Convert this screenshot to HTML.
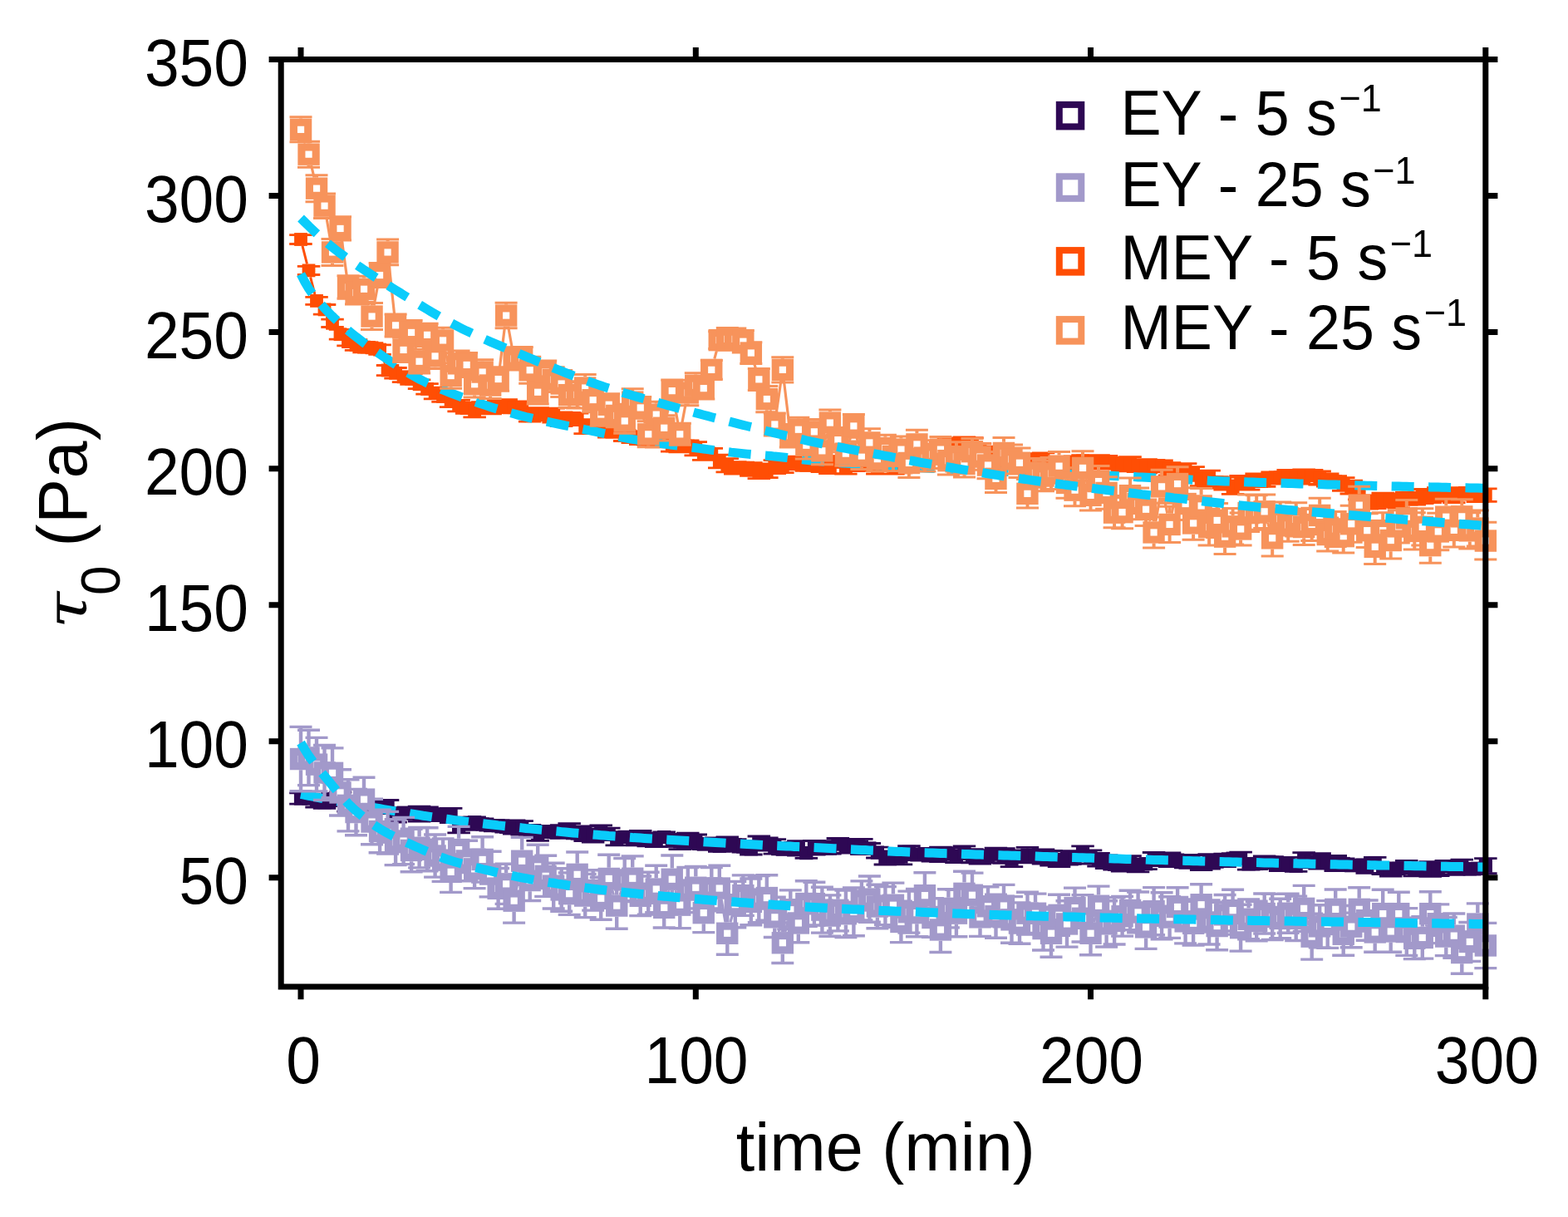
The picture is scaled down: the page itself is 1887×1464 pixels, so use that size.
<!DOCTYPE html>
<html lang="en"><head><meta charset="utf-8"><title>Yield stress over time</title>
<style>
html,body{margin:0;padding:0;background:#fff}
body{width:1887px;height:1464px;overflow:hidden}
svg{display:block}
text{font-family:"Liberation Sans",Arial,Helvetica,sans-serif;fill:#000}
</style></head><body>
<svg width="1887" height="1464" viewBox="0 0 1887 1464">
<rect width="1887" height="1464" fill="#fff"/>
<g id="data">
<g id="s1"><path fill="none" stroke="#2e0854" stroke-width="2.8" d="M476.1 972.9V972.9M476.1 989.1V989.2M504.6 970.2V971.1M504.6 987.3V988.1M514.1 970.8V971.1M514.1 987.3V987.7M542.6 972.4V972.9M542.6 989.1V989.6M552.1 984.4V985M552.1 1001.2V1001.9M618.6 986.8V986.9M618.6 1003.1V1003.2M628.2 987.6V987.7M628.2 1003.9V1004M647.2 993.8V994.5M647.2 1010.7V1011.4M704.2 993.9V994.7M704.2 1010.9V1011.7M818.3 1003.4V1004.4M818.3 1020.6V1021.6M827.8 1002.1V1003M827.8 1019.2V1020.1M837.3 1004V1004.5M837.3 1020.7V1021.2M875.3 1006.9V1007.4M875.3 1023.6V1024.1M913.3 1006V1006.2M913.3 1022.4V1022.6M932.3 1009.7V1010.3M932.3 1026.5V1027.2M960.8 1011.7V1012.3M960.8 1028.5V1029M979.9 1011.5V1011.6M979.9 1027.8V1028M1017.9 1009.4V1009.7M1017.9 1025.9V1026.1M1036.9 1009.4V1010.4M1036.9 1026.6V1027.5M1084.4 1021.5V1022.6M1084.4 1038.8V1039.8M1131.9 1019.2V1019.8M1131.9 1036V1036.7M1179.5 1022.6V1022.8M1179.5 1039V1039.2M1208 1020.7V1021.4M1208 1037.6V1038.3M1217.5 1024.9V1025.7M1217.5 1041.9V1042.6M1236.5 1019.4V1020.5M1236.5 1036.7V1037.8M1255.5 1022V1022.5M1255.5 1038.7V1039.2M1265 1023.3V1024.1M1265 1040.3V1041.1M1284 1023.7V1023.7M1284 1039.9V1040M1303 1017.9V1018.5M1303 1034.7V1035.3M1312.5 1022.8V1022.9M1312.5 1039.1V1039.1M1350.6 1030.7V1031.2M1350.6 1047.4V1048M1407.6 1025.8V1026.1M1407.6 1042.3V1042.6M1455.1 1027.7V1028.3M1455.1 1044.5V1045.2M1569.2 1025.7V1026.7M1569.2 1042.9V1043.9M1588.2 1026.7V1027.7M1588.2 1043.9V1045M1607.2 1029.5V1030.4M1607.2 1046.6V1047.5M1645.2 1034V1034.1M1645.2 1050.3V1050.4M1673.7 1038V1038M1673.7 1054.2V1054.2M1721.3 1036.6V1037.4M1721.3 1053.6V1054.4M1749.8 1036.1V1036.1M1749.8 1052.3V1052.4M1759.3 1034.2V1034.8M1759.3 1051V1051.7M1787.8 1032.6V1033.6M1787.8 1049.8V1050.7"/>
<path fill="none" stroke="#2e0854" stroke-width="2.8" d="M348.2 953.8h27.5M348.2 967.2h27.5M357.8 955.2h27.5M357.8 965.6h27.5M367.3 956.6h27.5M367.3 971h27.5M376.8 958h27.5M376.8 972.3h27.5M386.3 954.5h27.5M386.3 969.5h27.5M395.8 953h27.5M395.8 967.6h27.5M405.3 962h27.5M405.3 976.2h27.5M414.8 961.1h27.5M414.8 974.8h27.5M424.3 962.9h27.5M424.3 978.8h27.5M433.8 964.7h27.5M433.8 976.7h27.5M443.3 963.1h27.5M443.3 978.2h27.5M452.8 962.5h27.5M452.8 978.7h27.5M462.3 972.9h27.5M462.3 989.2h27.5M471.8 971.6h27.5M471.8 983.8h27.5M481.3 971.3h27.5M481.3 985h27.5M490.8 970.2h27.5M490.8 988.1h27.5M500.3 970.8h27.5M500.3 987.7h27.5M509.8 974.3h27.5M509.8 987.1h27.5M519.3 972.6h27.5M519.3 987.6h27.5M528.9 972.4h27.5M528.9 989.6h27.5M538.4 984.4h27.5M538.4 1001.9h27.5M547.9 983.2h27.5M547.9 998.4h27.5M557.4 983h27.5M557.4 995.5h27.5M566.9 984.8h27.5M566.9 998h27.5M576.4 987.1h27.5M576.4 999.1h27.5M585.9 986.7h27.5M585.9 999.6h27.5M595.4 988.8h27.5M595.4 1001h27.5M604.9 986.8h27.5M604.9 1003.2h27.5M614.4 987.6h27.5M614.4 1004h27.5M623.9 992.4h27.5M623.9 1007.2h27.5M633.4 993.8h27.5M633.4 1011.4h27.5M642.9 993.8h27.5M642.9 1006.6h27.5M652.4 994.6h27.5M652.4 1007.7h27.5M661.9 992.6h27.5M661.9 1008.4h27.5M671.4 990.6h27.5M671.4 1005.9h27.5M680.9 996.2h27.5M680.9 1008.8h27.5M690.4 993.9h27.5M690.4 1011.7h27.5M699.9 997.2h27.5M699.9 1013.1h27.5M709.5 992.8h27.5M709.5 1008.6h27.5M719 996.2h27.5M719 1010.5h27.5M728.5 1001.1h27.5M728.5 1016.9h27.5M738 1000.7h27.5M738 1013h27.5M747.5 1003.1h27.5M747.5 1016.9h27.5M757 999.3h27.5M757 1015.3h27.5M766.5 1002.2h27.5M766.5 1017.9h27.5M776 1003.2h27.5M776 1018.5h27.5M785.5 1001h27.5M785.5 1013.2h27.5M795 1004.4h27.5M795 1018.3h27.5M804.5 1003.4h27.5M804.5 1021.6h27.5M814 1002.1h27.5M814 1020.1h27.5M823.5 1004h27.5M823.5 1021.2h27.5M833 1009.5h27.5M833 1021.7h27.5M842.5 1008.5h27.5M842.5 1020.8h27.5M852 1011.2h27.5M852 1024.4h27.5M861.5 1006.9h27.5M861.5 1024.1h27.5M871 1009.6h27.5M871 1022.8h27.5M880.6 1011.8h27.5M880.6 1025.1h27.5M890.1 1014.5h27.5M890.1 1028h27.5M899.6 1006h27.5M899.6 1022.6h27.5M909.1 1007.8h27.5M909.1 1023.1h27.5M918.6 1009.7h27.5M918.6 1027.2h27.5M928.1 1015.5h27.5M928.1 1027.8h27.5M937.6 1014h27.5M937.6 1026.1h27.5M947.1 1011.7h27.5M947.1 1029h27.5M956.6 1019.8h27.5M956.6 1032.3h27.5M966.1 1011.5h27.5M966.1 1028h27.5M975.6 1011.6h27.5M975.6 1027.4h27.5M985.1 1014.1h27.5M985.1 1027.2h27.5M994.6 1008.5h27.5M994.6 1022h27.5M1004.1 1009.4h27.5M1004.1 1026.1h27.5M1013.6 1010.1h27.5M1013.6 1022.1h27.5M1023.1 1009.4h27.5M1023.1 1027.5h27.5M1032.6 1014.5h27.5M1032.6 1026.6h27.5M1042.1 1019.2h27.5M1042.1 1032h27.5M1051.6 1024h27.5M1051.6 1040h27.5M1061.2 1024.9h27.5M1061.2 1037.5h27.5M1070.7 1021.5h27.5M1070.7 1039.8h27.5M1080.2 1017.6h27.5M1080.2 1032.3h27.5M1089.7 1022.3h27.5M1089.7 1034.5h27.5M1099.2 1020.6h27.5M1099.2 1033.5h27.5M1108.7 1020.8h27.5M1108.7 1036.2h27.5M1118.2 1019.2h27.5M1118.2 1036.7h27.5M1127.7 1020h27.5M1127.7 1033.5h27.5M1137.2 1023.1h27.5M1137.2 1037.5h27.5M1146.7 1017.9h27.5M1146.7 1033.5h27.5M1156.2 1021.7h27.5M1156.2 1037.8h27.5M1165.7 1022.6h27.5M1165.7 1039.2h27.5M1175.2 1023.6h27.5M1175.2 1037.6h27.5M1184.7 1020.2h27.5M1184.7 1034.4h27.5M1194.2 1020.7h27.5M1194.2 1038.3h27.5M1203.7 1024.9h27.5M1203.7 1042.6h27.5M1213.2 1023h27.5M1213.2 1037.6h27.5M1222.7 1019.4h27.5M1222.7 1037.8h27.5M1232.3 1023.4h27.5M1232.3 1036.4h27.5M1241.8 1022h27.5M1241.8 1039.2h27.5M1251.3 1023.3h27.5M1251.3 1041.1h27.5M1260.8 1027.2h27.5M1260.8 1042.7h27.5M1270.3 1023.7h27.5M1270.3 1040h27.5M1279.8 1026.6h27.5M1279.8 1038.8h27.5M1289.3 1017.9h27.5M1289.3 1035.3h27.5M1298.8 1022.8h27.5M1298.8 1039.1h27.5M1308.3 1026.5h27.5M1308.3 1042.1h27.5M1317.8 1028.9h27.5M1317.8 1044.5h27.5M1327.3 1033.4h27.5M1327.3 1046.2h27.5M1336.8 1030.7h27.5M1336.8 1048h27.5M1346.3 1029.7h27.5M1346.3 1045h27.5M1355.8 1033.1h27.5M1355.8 1048.9h27.5M1365.3 1032.8h27.5M1365.3 1045.7h27.5M1374.8 1025.5h27.5M1374.8 1041.5h27.5M1384.3 1027.2h27.5M1384.3 1040.6h27.5M1393.8 1025.8h27.5M1393.8 1042.6h27.5M1403.3 1028.6h27.5M1403.3 1040.6h27.5M1412.9 1031.3h27.5M1412.9 1043.9h27.5M1422.4 1028.5h27.5M1422.4 1041.7h27.5M1431.9 1032.2h27.5M1431.9 1046.6h27.5M1441.4 1027.7h27.5M1441.4 1045.2h27.5M1450.9 1030.7h27.5M1450.9 1042.6h27.5M1460.4 1027.1h27.5M1460.4 1042.6h27.5M1469.9 1026.6h27.5M1469.9 1038.7h27.5M1479.4 1025.1h27.5M1479.4 1039.4h27.5M1488.9 1032.4h27.5M1488.9 1046.2h27.5M1498.4 1032.6h27.5M1498.4 1045.5h27.5M1507.9 1030h27.5M1507.9 1044.9h27.5M1517.4 1030.6h27.5M1517.4 1044.7h27.5M1526.9 1034h27.5M1526.9 1047.5h27.5M1536.4 1031.4h27.5M1536.4 1047.3h27.5M1545.9 1035h27.5M1545.9 1048.4h27.5M1555.4 1025.7h27.5M1555.4 1043.9h27.5M1564.9 1029.7h27.5M1564.9 1043.2h27.5M1574.4 1026.7h27.5M1574.4 1045h27.5M1584 1030.2h27.5M1584 1043.1h27.5M1593.5 1029.5h27.5M1593.5 1047.5h27.5M1603 1032.9h27.5M1603 1045.1h27.5M1612.5 1035.3h27.5M1612.5 1047.1h27.5M1622 1034.7h27.5M1622 1047.2h27.5M1631.5 1034h27.5M1631.5 1050.4h27.5M1641 1031.3h27.5M1641 1044.7h27.5M1650.5 1038h27.5M1650.5 1051.6h27.5M1660 1038h27.5M1660 1054.2h27.5M1669.5 1038.9h27.5M1669.5 1050.9h27.5M1679 1035.3h27.5M1679 1050.6h27.5M1688.5 1039.3h27.5M1688.5 1053.8h27.5M1698 1040.3h27.5M1698 1053.2h27.5M1707.5 1036.6h27.5M1707.5 1054.4h27.5M1717 1039.4h27.5M1717 1053.5h27.5M1726.5 1035.3h27.5M1726.5 1049h27.5M1736 1036.1h27.5M1736 1052.4h27.5M1745.5 1034.2h27.5M1745.5 1051.7h27.5M1755 1038.7h27.5M1755 1052h27.5M1764.6 1038.5h27.5M1764.6 1051.1h27.5M1774.1 1032.6h27.5M1774.1 1050.7h27.5"/>
<g fill="#2e0854" stroke="none"><rect x="353.9" y="952.4" width="16.2" height="16.2"/><rect x="363.4" y="952.3" width="16.2" height="16.2"/><rect x="372.9" y="955.7" width="16.2" height="16.2"/><rect x="382.4" y="957.1" width="16.2" height="16.2"/><rect x="391.9" y="953.9" width="16.2" height="16.2"/><rect x="401.4" y="952.2" width="16.2" height="16.2"/><rect x="410.9" y="961" width="16.2" height="16.2"/><rect x="420.4" y="959.9" width="16.2" height="16.2"/><rect x="429.9" y="962.7" width="16.2" height="16.2"/><rect x="439.4" y="962.6" width="16.2" height="16.2"/><rect x="449" y="962.5" width="16.2" height="16.2"/><rect x="458.5" y="962.5" width="16.2" height="16.2"/><rect x="468" y="972.9" width="16.2" height="16.2"/><rect x="477.5" y="969.6" width="16.2" height="16.2"/><rect x="487" y="970.1" width="16.2" height="16.2"/><rect x="496.5" y="971.1" width="16.2" height="16.2"/><rect x="506" y="971.1" width="16.2" height="16.2"/><rect x="515.5" y="972.6" width="16.2" height="16.2"/><rect x="525" y="972" width="16.2" height="16.2"/><rect x="534.5" y="972.9" width="16.2" height="16.2"/><rect x="544" y="985" width="16.2" height="16.2"/><rect x="553.5" y="982.7" width="16.2" height="16.2"/><rect x="563" y="981.1" width="16.2" height="16.2"/><rect x="572.5" y="983.3" width="16.2" height="16.2"/><rect x="582" y="985" width="16.2" height="16.2"/><rect x="591.5" y="985.1" width="16.2" height="16.2"/><rect x="601" y="986.8" width="16.2" height="16.2"/><rect x="610.5" y="986.9" width="16.2" height="16.2"/><rect x="620.1" y="987.7" width="16.2" height="16.2"/><rect x="629.6" y="991.7" width="16.2" height="16.2"/><rect x="639.1" y="994.5" width="16.2" height="16.2"/><rect x="648.6" y="992.1" width="16.2" height="16.2"/><rect x="658.1" y="993.1" width="16.2" height="16.2"/><rect x="667.6" y="992.4" width="16.2" height="16.2"/><rect x="677.1" y="990.1" width="16.2" height="16.2"/><rect x="686.6" y="994.4" width="16.2" height="16.2"/><rect x="696.1" y="994.7" width="16.2" height="16.2"/><rect x="705.6" y="997" width="16.2" height="16.2"/><rect x="715.1" y="992.6" width="16.2" height="16.2"/><rect x="724.6" y="995.2" width="16.2" height="16.2"/><rect x="734.1" y="1000.9" width="16.2" height="16.2"/><rect x="743.6" y="998.8" width="16.2" height="16.2"/><rect x="753.1" y="1001.9" width="16.2" height="16.2"/><rect x="762.6" y="999.2" width="16.2" height="16.2"/><rect x="772.1" y="1002" width="16.2" height="16.2"/><rect x="781.6" y="1002.7" width="16.2" height="16.2"/><rect x="791.1" y="999" width="16.2" height="16.2"/><rect x="800.7" y="1003.2" width="16.2" height="16.2"/><rect x="810.2" y="1004.4" width="16.2" height="16.2"/><rect x="819.7" y="1003" width="16.2" height="16.2"/><rect x="829.2" y="1004.5" width="16.2" height="16.2"/><rect x="838.7" y="1007.5" width="16.2" height="16.2"/><rect x="848.2" y="1006.5" width="16.2" height="16.2"/><rect x="857.7" y="1009.7" width="16.2" height="16.2"/><rect x="867.2" y="1007.4" width="16.2" height="16.2"/><rect x="876.7" y="1008.1" width="16.2" height="16.2"/><rect x="886.2" y="1010.4" width="16.2" height="16.2"/><rect x="895.7" y="1013.2" width="16.2" height="16.2"/><rect x="905.2" y="1006.2" width="16.2" height="16.2"/><rect x="914.7" y="1007.3" width="16.2" height="16.2"/><rect x="924.2" y="1010.3" width="16.2" height="16.2"/><rect x="933.7" y="1013.6" width="16.2" height="16.2"/><rect x="943.2" y="1011.9" width="16.2" height="16.2"/><rect x="952.7" y="1012.3" width="16.2" height="16.2"/><rect x="962.2" y="1018" width="16.2" height="16.2"/><rect x="971.8" y="1011.6" width="16.2" height="16.2"/><rect x="981.3" y="1011.4" width="16.2" height="16.2"/><rect x="990.8" y="1012.5" width="16.2" height="16.2"/><rect x="1000.3" y="1007.2" width="16.2" height="16.2"/><rect x="1009.8" y="1009.7" width="16.2" height="16.2"/><rect x="1019.3" y="1008" width="16.2" height="16.2"/><rect x="1028.8" y="1010.4" width="16.2" height="16.2"/><rect x="1038.3" y="1012.4" width="16.2" height="16.2"/><rect x="1047.8" y="1017.5" width="16.2" height="16.2"/><rect x="1057.3" y="1023.9" width="16.2" height="16.2"/><rect x="1066.8" y="1023.1" width="16.2" height="16.2"/><rect x="1076.3" y="1022.6" width="16.2" height="16.2"/><rect x="1085.8" y="1016.8" width="16.2" height="16.2"/><rect x="1095.3" y="1020.3" width="16.2" height="16.2"/><rect x="1104.8" y="1019" width="16.2" height="16.2"/><rect x="1114.3" y="1020.4" width="16.2" height="16.2"/><rect x="1123.8" y="1019.8" width="16.2" height="16.2"/><rect x="1133.3" y="1018.6" width="16.2" height="16.2"/><rect x="1142.8" y="1022.2" width="16.2" height="16.2"/><rect x="1152.4" y="1017.6" width="16.2" height="16.2"/><rect x="1161.9" y="1021.7" width="16.2" height="16.2"/><rect x="1171.4" y="1022.8" width="16.2" height="16.2"/><rect x="1180.9" y="1022.5" width="16.2" height="16.2"/><rect x="1190.4" y="1019.2" width="16.2" height="16.2"/><rect x="1199.9" y="1021.4" width="16.2" height="16.2"/><rect x="1209.4" y="1025.7" width="16.2" height="16.2"/><rect x="1218.9" y="1022.2" width="16.2" height="16.2"/><rect x="1228.4" y="1020.5" width="16.2" height="16.2"/><rect x="1237.9" y="1021.8" width="16.2" height="16.2"/><rect x="1247.4" y="1022.5" width="16.2" height="16.2"/><rect x="1256.9" y="1024.1" width="16.2" height="16.2"/><rect x="1266.4" y="1026.8" width="16.2" height="16.2"/><rect x="1275.9" y="1023.7" width="16.2" height="16.2"/><rect x="1285.4" y="1024.6" width="16.2" height="16.2"/><rect x="1294.9" y="1018.5" width="16.2" height="16.2"/><rect x="1304.4" y="1022.9" width="16.2" height="16.2"/><rect x="1313.9" y="1026.2" width="16.2" height="16.2"/><rect x="1323.5" y="1028.6" width="16.2" height="16.2"/><rect x="1333" y="1031.7" width="16.2" height="16.2"/><rect x="1342.5" y="1031.2" width="16.2" height="16.2"/><rect x="1352" y="1029.3" width="16.2" height="16.2"/><rect x="1361.5" y="1032.9" width="16.2" height="16.2"/><rect x="1371" y="1031.1" width="16.2" height="16.2"/><rect x="1380.5" y="1025.4" width="16.2" height="16.2"/><rect x="1390" y="1025.8" width="16.2" height="16.2"/><rect x="1399.5" y="1026.1" width="16.2" height="16.2"/><rect x="1409" y="1026.5" width="16.2" height="16.2"/><rect x="1418.5" y="1029.5" width="16.2" height="16.2"/><rect x="1428" y="1027" width="16.2" height="16.2"/><rect x="1437.5" y="1031.3" width="16.2" height="16.2"/><rect x="1447" y="1028.3" width="16.2" height="16.2"/><rect x="1456.5" y="1028.5" width="16.2" height="16.2"/><rect x="1466" y="1026.7" width="16.2" height="16.2"/><rect x="1475.5" y="1024.6" width="16.2" height="16.2"/><rect x="1485" y="1024.2" width="16.2" height="16.2"/><rect x="1494.5" y="1031.2" width="16.2" height="16.2"/><rect x="1504.1" y="1030.9" width="16.2" height="16.2"/><rect x="1513.6" y="1029.3" width="16.2" height="16.2"/><rect x="1523.1" y="1029.6" width="16.2" height="16.2"/><rect x="1532.6" y="1032.7" width="16.2" height="16.2"/><rect x="1542.1" y="1031.2" width="16.2" height="16.2"/><rect x="1551.6" y="1033.6" width="16.2" height="16.2"/><rect x="1561.1" y="1026.7" width="16.2" height="16.2"/><rect x="1570.6" y="1028.3" width="16.2" height="16.2"/><rect x="1580.1" y="1027.7" width="16.2" height="16.2"/><rect x="1589.6" y="1028.5" width="16.2" height="16.2"/><rect x="1599.1" y="1030.4" width="16.2" height="16.2"/><rect x="1608.6" y="1030.9" width="16.2" height="16.2"/><rect x="1618.1" y="1033.1" width="16.2" height="16.2"/><rect x="1627.6" y="1032.8" width="16.2" height="16.2"/><rect x="1637.1" y="1034.1" width="16.2" height="16.2"/><rect x="1646.6" y="1029.9" width="16.2" height="16.2"/><rect x="1656.1" y="1036.7" width="16.2" height="16.2"/><rect x="1665.6" y="1038" width="16.2" height="16.2"/><rect x="1675.2" y="1036.8" width="16.2" height="16.2"/><rect x="1684.7" y="1034.8" width="16.2" height="16.2"/><rect x="1694.2" y="1038.4" width="16.2" height="16.2"/><rect x="1703.7" y="1038.7" width="16.2" height="16.2"/><rect x="1713.2" y="1037.4" width="16.2" height="16.2"/><rect x="1722.7" y="1038.3" width="16.2" height="16.2"/><rect x="1732.2" y="1034.1" width="16.2" height="16.2"/><rect x="1741.7" y="1036.1" width="16.2" height="16.2"/><rect x="1751.2" y="1034.8" width="16.2" height="16.2"/><rect x="1760.7" y="1037.2" width="16.2" height="16.2"/><rect x="1770.2" y="1036.7" width="16.2" height="16.2"/><rect x="1779.7" y="1033.6" width="16.2" height="16.2"/></g></g>
<polyline fill="none" stroke="#0accfb" stroke-width="11" stroke-dasharray="27 17.4" points="362,955.4 366.8,956.3 371.5,957.3 376.3,958.2 381,959.1 385.8,960 390.5,960.9 395.3,961.8 400,962.7 404.8,963.6 409.5,964.5 414.3,965.3 419,966.2 423.8,967 428.5,967.9 433.3,968.7 438,969.5 442.8,970.4 447.5,971.2 452.3,972 457.1,972.8 461.8,973.6 466.6,974.4 471.3,975.1 476.1,975.9 480.8,976.7 485.6,977.4 490.3,978.2 495.1,979 499.8,979.7 504.6,980.4 509.3,981.2 514.1,981.9 518.8,982.6 523.6,983.3 528.3,984 533.1,984.7 537.8,985.3 542.6,986 547.4,986.6 552.1,987.2 556.9,987.8 561.6,988.4 566.4,989 571.1,989.6 575.9,990.2 580.6,990.7 585.4,991.3 590.1,991.8 594.9,992.3 599.6,992.9 604.4,993.4 609.1,993.9 613.9,994.4 618.6,994.9 623.4,995.4 628.2,995.9 632.9,996.4 637.7,996.8 642.4,997.3 647.2,997.8 651.9,998.3 656.7,998.7 661.4,999.2 666.2,999.7 670.9,1000.1 675.7,1000.6 680.4,1001 685.2,1001.5 689.9,1001.9 694.7,1002.3 699.4,1002.7 704.2,1003.2 708.9,1003.6 713.7,1004 718.5,1004.3 723.2,1004.7 728,1005.1 732.7,1005.5 737.5,1005.8 742.2,1006.1 747,1006.5 751.7,1006.8 756.5,1007.1 761.2,1007.5 766,1007.8 770.7,1008.1 775.5,1008.4 780.2,1008.7 785,1009 789.7,1009.3 794.5,1009.6 799.2,1009.9 804,1010.2 808.8,1010.5 813.5,1010.8 818.3,1011 823,1011.3 827.8,1011.6 832.5,1011.9 837.3,1012.1 842,1012.4 846.8,1012.7 851.5,1012.9 856.3,1013.2 861,1013.5 865.8,1013.7 870.5,1014 875.3,1014.3 880,1014.5 884.8,1014.8 889.5,1015 894.3,1015.3 899.1,1015.5 903.8,1015.8 908.6,1016 913.3,1016.2 918.1,1016.5 922.8,1016.7 927.6,1017 932.3,1017.2 937.1,1017.4 941.8,1017.7 946.6,1017.9 951.3,1018.1 956.1,1018.4 960.8,1018.6 965.6,1018.8 970.3,1019.1 975.1,1019.3 979.9,1019.5 984.6,1019.8 989.4,1020 994.1,1020.2 998.9,1020.5 1003.6,1020.7 1008.4,1020.9 1013.1,1021.2 1017.9,1021.4 1022.6,1021.7 1027.4,1021.9 1032.1,1022.2 1036.9,1022.4 1041.6,1022.6 1046.4,1022.9 1051.1,1023.1 1055.9,1023.4 1060.6,1023.6 1065.4,1023.8 1070.2,1024 1074.9,1024.2 1079.7,1024.4 1084.4,1024.6 1089.2,1024.8 1093.9,1025 1098.7,1025.2 1103.4,1025.4 1108.2,1025.6 1112.9,1025.7 1117.7,1025.9 1122.4,1026.1 1127.2,1026.3 1131.9,1026.4 1136.7,1026.6 1141.4,1026.7 1146.2,1026.9 1150.9,1027.1 1155.7,1027.2 1160.5,1027.4 1165.2,1027.5 1170,1027.7 1174.7,1027.9 1179.5,1028 1184.2,1028.2 1189,1028.3 1193.7,1028.5 1198.5,1028.6 1203.2,1028.7 1208,1028.9 1212.7,1029 1217.5,1029.2 1222.2,1029.3 1227,1029.5 1231.7,1029.6 1236.5,1029.8 1241.2,1029.9 1246,1030.1 1250.8,1030.2 1255.5,1030.4 1260.3,1030.5 1265,1030.7 1269.8,1030.8 1274.5,1031 1279.3,1031.1 1284,1031.2 1288.8,1031.4 1293.5,1031.5 1298.3,1031.7 1303,1031.8 1307.8,1032 1312.5,1032.1 1317.3,1032.3 1322,1032.4 1326.8,1032.5 1331.6,1032.7 1336.3,1032.8 1341.1,1033 1345.8,1033.1 1350.6,1033.3 1355.3,1033.4 1360.1,1033.5 1364.8,1033.7 1369.6,1033.8 1374.3,1033.9 1379.1,1034.1 1383.8,1034.2 1388.6,1034.4 1393.3,1034.5 1398.1,1034.6 1402.8,1034.8 1407.6,1034.9 1412.3,1035 1417.1,1035.1 1421.9,1035.3 1426.6,1035.4 1431.4,1035.5 1436.1,1035.7 1440.9,1035.8 1445.6,1035.9 1450.4,1036 1455.1,1036.2 1459.9,1036.3 1464.6,1036.4 1469.4,1036.5 1474.1,1036.7 1478.9,1036.8 1483.6,1036.9 1488.4,1037 1493.1,1037.2 1497.9,1037.3 1502.6,1037.4 1507.4,1037.5 1512.2,1037.6 1516.9,1037.8 1521.7,1037.9 1526.4,1038 1531.2,1038.1 1535.9,1038.2 1540.7,1038.3 1545.4,1038.5 1550.2,1038.6 1554.9,1038.7 1559.7,1038.8 1564.4,1038.9 1569.2,1039 1573.9,1039.1 1578.7,1039.2 1583.4,1039.3 1588.2,1039.4 1592.9,1039.5 1597.7,1039.6 1602.5,1039.7 1607.2,1039.8 1612,1039.9 1616.7,1040 1621.5,1040.1 1626.2,1040.2 1631,1040.3 1635.7,1040.4 1640.5,1040.5 1645.2,1040.6 1650,1040.7 1654.7,1040.8 1659.5,1040.9 1664.2,1041 1669,1041.1 1673.7,1041.1 1678.5,1041.2 1683.3,1041.3 1688,1041.4 1692.8,1041.5 1697.5,1041.6 1702.3,1041.7 1707,1041.7 1711.8,1041.8 1716.5,1041.9 1721.3,1042 1726,1042.1 1730.8,1042.1 1735.5,1042.2 1740.3,1042.3 1745,1042.4 1749.8,1042.4 1754.5,1042.5 1759.3,1042.6 1764,1042.7 1768.8,1042.7 1773.6,1042.8 1778.3,1042.9 1783.1,1042.9 1787.8,1043"/>
<g id="s2"><path fill="none" stroke="#a299ca" stroke-width="3.2" d="M442.7 974.8L442.9 975.3M547.3 1035.7L547.4 1035.2M621.3 1070.5L625.5 1049M736.6 1070.1L738.4 1076.4M746.2 1076.4L747.7 1071.7M802.9 1078.7L805.1 1071M812.8 1071L814.2 1075.4M841.4 1080.9L842.7 1084.9M851 1084.9L852.1 1081.5M868.1 1081.8L873 1109.5M878.9 1109.5L881.2 1101.3M936.4 1116.6L937.8 1121M945 1121L948.2 1107.4M1117.6 1090.3L1117.8 1090.7M1174.7 1090L1174.7 1090.2M1316.3 1109.5L1318.2 1103M1572.9 1106.1L1575 1113.5M1611.4 1107.1L1612.5 1110.5M1716.1 1114.8L1716.9 1112.3"/>
<path fill="none" stroke="#a299ca" stroke-width="4.4" d="M362 874.4V899.9M362 926.3V951.7M371.5 878.3V898.2M371.5 924.6V944.6M381 887.4V906.4M381 932.8V951.9M390.5 896.5V916.3M390.5 942.7V962.5M400 899.9V916.6M400 943V959.7M409.5 925.8V940.2M409.5 966.6V981M419 937.8V955.7M419 982.1V999.9M428.5 949.4V963.9M428.5 990.3V1004.7M438 935.3V948.4M438 974.8V988M447.5 961.3V975.3M447.5 1001.7V1015.7M457.1 974.3V986.8M457.1 1013.2V1025.7M466.6 976.4V988.5M466.6 1014.9V1027M476.1 985.7V999.9M476.1 1026.3V1040.6M485.6 983.4V998.3M485.6 1024.7V1039.6M495.1 997.3V1009.8M495.1 1036.2V1048.7M504.6 995.5V1006.5M504.6 1032.9V1043.9M514.1 995.8V1008.6M514.1 1035V1047.8M523.6 1004V1016.4M523.6 1042.8V1055.1M533.1 1009V1021.5M533.1 1047.9V1060.4M542.6 1024.4V1035.7M542.6 1062.1V1073.4M552.1 994.4V1008.8M552.1 1035.2V1049.6M561.6 1011.2V1022.2M561.6 1048.6V1059.7M571.1 1022.1V1032.2M571.1 1058.6V1068.6M580.6 1006.8V1020.7M580.6 1047.1V1061.1M590.1 1024.2V1038.4M590.1 1064.8V1078.9M599.6 1044.5V1055.7M599.6 1082.1V1093.3M609.1 1039.3V1050.1M609.1 1076.5V1087.4M618.6 1057.3V1070.5M618.6 1096.9V1110.1M628.2 1007.4V1022.6M628.2 1049V1064.2M637.7 1034.6V1045.9M637.7 1072.3V1083.5M647.2 1016.3V1029.3M647.2 1055.7V1068.6M656.7 1029.3V1040.6M656.7 1067V1078.4M666.2 1038.3V1052.4M666.2 1078.8V1093M675.7 1044.7V1057.3M675.7 1083.7V1096.2M685.2 1049.9V1061.9M685.2 1088.3V1100.4M694.7 1025V1038.7M694.7 1065.1V1078.7M704.2 1051.4V1064.3M704.2 1090.7V1103.6M713.7 1046.8V1057.8M713.7 1084.2V1095.1M723.2 1055.3V1067.6M723.2 1094V1106.2M732.7 1028.3V1043.7M732.7 1070.1V1085.6M742.2 1061.9V1076.4M742.2 1102.8V1117.3M751.7 1032.5V1045.3M751.7 1071.7V1084.5M761.2 1029.9V1043.6M761.2 1070V1083.7M770.7 1054V1064.6M770.7 1091V1101.6M780.2 1049.3V1061.5M780.2 1087.9V1100.1M789.7 1041.3V1056.4M789.7 1082.8V1097.8M799.2 1067.8V1078.7M799.2 1105.1V1116M808.8 1029V1044.6M808.8 1071V1086.5M818.3 1060.6V1075.4M818.3 1101.8V1116.6M827.8 1043.5V1057.4M827.8 1083.8V1097.6M837.3 1042.5V1054.5M837.3 1080.9V1092.9M846.8 1074.6V1084.9M846.8 1111.3V1121.6M856.3 1043.6V1055.1M856.3 1081.5V1093M865.8 1041.3V1055.4M865.8 1081.8V1095.9M875.3 1097.3V1109.5M875.3 1135.9V1148.2M884.8 1060.4V1074.9M884.8 1101.3V1115.8M894.3 1052.9V1063.9M894.3 1090.3V1101.4M903.8 1057V1071.7M903.8 1098.1V1112.7M913.3 1053.5V1068.4M913.3 1094.8V1109.6M922.8 1052.8V1066.9M922.8 1093.3V1107.3M932.3 1079.2V1090.2M932.3 1116.6V1127.5M941.8 1109.9V1121M941.8 1147.4V1158.5M951.3 1070.9V1081M951.3 1107.4V1117.6M960.8 1087.2V1097.2M960.8 1123.6V1133.7M970.3 1059.7V1073.9M970.3 1100.3V1114.4M979.9 1061.3V1074M979.9 1100.4V1113M989.4 1067.2V1081.5M989.4 1107.9V1122.1M998.9 1076.9V1088.4M998.9 1114.8V1126.2M1008.4 1069.9V1081.7M1008.4 1108.1V1119.9M1017.9 1071V1086.1M1017.9 1112.5V1127.5M1027.4 1068V1083.6M1027.4 1110V1125.7M1036.9 1059.9V1070.3M1036.9 1096.7V1107M1046.4 1054V1068.4M1046.4 1094.8V1109.2M1055.9 1064.2V1077.3M1055.9 1103.7V1116.7M1065.4 1066.6V1076.4M1065.4 1102.8V1112.6M1074.9 1062.1V1075.5M1074.9 1101.9V1115.3M1084.4 1084.3V1095.8M1084.4 1122.2V1133.6M1093.9 1072.1V1083.9M1093.9 1110.3V1122.1M1103.4 1069.4V1084.9M1103.4 1111.3V1126.8M1112.9 1049.8V1063.9M1112.9 1090.3V1104.5M1122.4 1080.7V1090.7M1122.4 1117.1V1127.2M1131.9 1091.5V1105.3M1131.9 1131.7V1145.5M1141.4 1069.8V1079.7M1141.4 1106.1V1115.9M1150.9 1070.4V1085.4M1150.9 1111.8V1126.8M1160.5 1048.3V1061.6M1160.5 1088V1101.3M1170 1050.1V1063.6M1170 1090V1103.5M1179.5 1080.3V1090.2M1179.5 1116.6V1126.4M1189 1066.8V1077M1189 1103.4V1113.7M1198.5 1076.2V1089.1M1198.5 1115.5V1128.3M1208 1064.4V1076.4M1208 1102.8V1114.8M1217.5 1078.6V1093.2M1217.5 1119.6V1134.2M1227 1085.9V1097.3M1227 1123.7V1135.2M1236.5 1073.3V1085.5M1236.5 1111.9V1124M1246 1075.1V1085.6M1246 1112V1122.4M1255.5 1091.1V1103.9M1255.5 1130.3V1143M1265 1094.1V1109.5M1265 1135.9V1151.3M1274.5 1076.3V1087.7M1274.5 1114.1V1125.4M1284 1083.8V1098.3M1284 1124.7V1139.1M1293.5 1068.1V1078.9M1293.5 1105.3V1116M1303 1076.6V1091.6M1303 1118V1133M1312.5 1096.7V1109.5M1312.5 1135.9V1148.7M1322 1066.1V1076.6M1322 1103V1113.5M1331.6 1083.8V1098.2M1331.6 1124.6V1139M1341.1 1079.6V1094.6M1341.1 1121V1136M1350.6 1078.4V1089M1350.6 1115.4V1126.1M1360.1 1071.3V1081.8M1360.1 1108.2V1118.6M1369.6 1073V1084.3M1369.6 1110.7V1121.9M1379.1 1089.4V1102.2M1379.1 1128.6V1141.4M1388.6 1067.6V1083M1388.6 1109.4V1124.7M1398.1 1073.7V1088.6M1398.1 1115V1129.8M1407.6 1078.7V1090.4M1407.6 1116.8V1128.4M1417.1 1067.7V1077.7M1417.1 1104.1V1114.1M1426.6 1081.9V1095.2M1426.6 1121.6V1134.9M1436.1 1084.3V1097.5M1436.1 1123.9V1137.1M1445.6 1063.8V1075M1445.6 1101.4V1112.6M1455.1 1082.9V1096.2M1455.1 1122.6V1136M1464.6 1085.3V1100.9M1464.6 1127.3V1142.8M1474.1 1076.5V1087.1M1474.1 1113.5V1124.1M1483.6 1070.3V1082M1483.6 1108.4V1120M1493.1 1088.2V1103M1493.1 1129.4V1144.1M1502.6 1081.9V1092.6M1502.6 1119V1129.7M1512.2 1084.3V1094.8M1512.2 1121.2V1131.7M1521.7 1075V1085.8M1521.7 1112.2V1123M1531.2 1075.4V1089.7M1531.2 1116.1V1130.5M1540.7 1081.2V1091.7M1540.7 1118.1V1128.7M1550.2 1075.3V1085.6M1550.2 1112V1122.3M1559.7 1078.1V1091.6M1559.7 1118V1131.5M1569.2 1065.4V1079.7M1569.2 1106.1V1120.4M1578.7 1099.2V1113.5M1578.7 1139.9V1154.1M1588.2 1088.8V1101.1M1588.2 1127.5V1139.9M1597.7 1083.6V1098.8M1597.7 1125.2V1140.4M1607.2 1070V1080.7M1607.2 1107.1V1117.7M1616.7 1098.1V1110.5M1616.7 1136.9V1149.3M1626.2 1089.5V1101.5M1626.2 1127.9V1139.8M1635.7 1067.7V1080.7M1635.7 1107.1V1120.1M1645.2 1083V1093.9M1645.2 1120.3V1131.3M1654.7 1097.6V1108.2M1654.7 1134.6V1145.3M1664.2 1070.3V1085.9M1664.2 1112.3V1127.9M1673.7 1095.7V1107.2M1673.7 1133.6V1145.2M1683.3 1073.2V1085.9M1683.3 1112.3V1125M1692.8 1092.6V1107.8M1692.8 1134.2V1149.4M1702.3 1104.1V1115.7M1702.3 1142.1V1153.6M1711.8 1102.8V1114.8M1711.8 1141.2V1153.1M1721.3 1072.8V1085.9M1721.3 1112.3V1125.4M1730.8 1087.9V1098.1M1730.8 1124.5V1134.6M1740.3 1103.4V1113.3M1740.3 1139.7V1149.6M1749.8 1099V1112.5M1749.8 1138.9V1152.4M1759.3 1120.9V1132.8M1759.3 1159.2V1171.2M1768.8 1109.5V1119.7M1768.8 1146.1V1156.4M1778.3 1086.9V1098.3M1778.3 1124.7V1136.2M1787.8 1110.4V1124.3M1787.8 1150.7V1164.6"/>
<path fill="none" stroke="#a299ca" stroke-width="3.4" d="M348.5 874.4h27M348.5 951.7h27M358 878.3h27M358 944.6h27M367.5 887.4h27M367.5 951.9h27M377 896.5h27M377 962.5h27M386.5 899.9h27M386.5 959.7h27M396 925.8h27M396 981h27M405.5 937.8h27M405.5 999.9h27M415 949.4h27M415 1004.7h27M424.5 935.3h27M424.5 988h27M434 961.3h27M434 1015.7h27M443.6 974.3h27M443.6 1025.7h27M453.1 976.4h27M453.1 1027h27M462.6 985.7h27M462.6 1040.6h27M472.1 983.4h27M472.1 1039.6h27M481.6 997.3h27M481.6 1048.7h27M491.1 995.5h27M491.1 1043.9h27M500.6 995.8h27M500.6 1047.8h27M510.1 1004h27M510.1 1055.1h27M519.6 1009h27M519.6 1060.4h27M529.1 1024.4h27M529.1 1073.4h27M538.6 994.4h27M538.6 1049.6h27M548.1 1011.2h27M548.1 1059.7h27M557.6 1022.1h27M557.6 1068.6h27M567.1 1006.8h27M567.1 1061.1h27M576.6 1024.2h27M576.6 1078.9h27M586.1 1044.5h27M586.1 1093.3h27M595.6 1039.3h27M595.6 1087.4h27M605.1 1057.3h27M605.1 1110.1h27M614.7 1007.4h27M614.7 1064.2h27M624.2 1034.6h27M624.2 1083.5h27M633.7 1016.3h27M633.7 1068.6h27M643.2 1029.3h27M643.2 1078.4h27M652.7 1038.3h27M652.7 1093h27M662.2 1044.7h27M662.2 1096.2h27M671.7 1049.9h27M671.7 1100.4h27M681.2 1025h27M681.2 1078.7h27M690.7 1051.4h27M690.7 1103.6h27M700.2 1046.8h27M700.2 1095.1h27M709.7 1055.3h27M709.7 1106.2h27M719.2 1028.3h27M719.2 1085.6h27M728.7 1061.9h27M728.7 1117.3h27M738.2 1032.5h27M738.2 1084.5h27M747.7 1029.9h27M747.7 1083.7h27M757.2 1054h27M757.2 1101.6h27M766.7 1049.3h27M766.7 1100.1h27M776.2 1041.3h27M776.2 1097.8h27M785.7 1067.8h27M785.7 1116h27M795.3 1029h27M795.3 1086.5h27M804.8 1060.6h27M804.8 1116.6h27M814.3 1043.5h27M814.3 1097.6h27M823.8 1042.5h27M823.8 1092.9h27M833.3 1074.6h27M833.3 1121.6h27M842.8 1043.6h27M842.8 1093h27M852.3 1041.3h27M852.3 1095.9h27M861.8 1097.3h27M861.8 1148.2h27M871.3 1060.4h27M871.3 1115.8h27M880.8 1052.9h27M880.8 1101.4h27M890.3 1057h27M890.3 1112.7h27M899.8 1053.5h27M899.8 1109.6h27M909.3 1052.8h27M909.3 1107.3h27M918.8 1079.2h27M918.8 1127.5h27M928.3 1109.9h27M928.3 1158.5h27M937.8 1070.9h27M937.8 1117.6h27M947.3 1087.2h27M947.3 1133.7h27M956.8 1059.7h27M956.8 1114.4h27M966.4 1061.3h27M966.4 1113h27M975.9 1067.2h27M975.9 1122.1h27M985.4 1076.9h27M985.4 1126.2h27M994.9 1069.9h27M994.9 1119.9h27M1004.4 1071h27M1004.4 1127.5h27M1013.9 1068h27M1013.9 1125.7h27M1023.4 1059.9h27M1023.4 1107h27M1032.9 1054h27M1032.9 1109.2h27M1042.4 1064.2h27M1042.4 1116.7h27M1051.9 1066.6h27M1051.9 1112.6h27M1061.4 1062.1h27M1061.4 1115.3h27M1070.9 1084.3h27M1070.9 1133.6h27M1080.4 1072.1h27M1080.4 1122.1h27M1089.9 1069.4h27M1089.9 1126.8h27M1099.4 1049.8h27M1099.4 1104.5h27M1108.9 1080.7h27M1108.9 1127.2h27M1118.4 1091.5h27M1118.4 1145.5h27M1127.9 1069.8h27M1127.9 1115.9h27M1137.4 1070.4h27M1137.4 1126.8h27M1147 1048.3h27M1147 1101.3h27M1156.5 1050.1h27M1156.5 1103.5h27M1166 1080.3h27M1166 1126.4h27M1175.5 1066.8h27M1175.5 1113.7h27M1185 1076.2h27M1185 1128.3h27M1194.5 1064.4h27M1194.5 1114.8h27M1204 1078.6h27M1204 1134.2h27M1213.5 1085.9h27M1213.5 1135.2h27M1223 1073.3h27M1223 1124h27M1232.5 1075.1h27M1232.5 1122.4h27M1242 1091.1h27M1242 1143h27M1251.5 1094.1h27M1251.5 1151.3h27M1261 1076.3h27M1261 1125.4h27M1270.5 1083.8h27M1270.5 1139.1h27M1280 1068.1h27M1280 1116h27M1289.5 1076.6h27M1289.5 1133h27M1299 1096.7h27M1299 1148.7h27M1308.5 1066.1h27M1308.5 1113.5h27M1318.1 1083.8h27M1318.1 1139h27M1327.6 1079.6h27M1327.6 1136h27M1337.1 1078.4h27M1337.1 1126.1h27M1346.6 1071.3h27M1346.6 1118.6h27M1356.1 1073h27M1356.1 1121.9h27M1365.6 1089.4h27M1365.6 1141.4h27M1375.1 1067.6h27M1375.1 1124.7h27M1384.6 1073.7h27M1384.6 1129.8h27M1394.1 1078.7h27M1394.1 1128.4h27M1403.6 1067.7h27M1403.6 1114.1h27M1413.1 1081.9h27M1413.1 1134.9h27M1422.6 1084.3h27M1422.6 1137.1h27M1432.1 1063.8h27M1432.1 1112.6h27M1441.6 1082.9h27M1441.6 1136h27M1451.1 1085.3h27M1451.1 1142.8h27M1460.6 1076.5h27M1460.6 1124.1h27M1470.1 1070.3h27M1470.1 1120h27M1479.6 1088.2h27M1479.6 1144.1h27M1489.1 1081.9h27M1489.1 1129.7h27M1498.7 1084.3h27M1498.7 1131.7h27M1508.2 1075h27M1508.2 1123h27M1517.7 1075.4h27M1517.7 1130.5h27M1527.2 1081.2h27M1527.2 1128.7h27M1536.7 1075.3h27M1536.7 1122.3h27M1546.2 1078.1h27M1546.2 1131.5h27M1555.7 1065.4h27M1555.7 1120.4h27M1565.2 1099.2h27M1565.2 1154.1h27M1574.7 1088.8h27M1574.7 1139.9h27M1584.2 1083.6h27M1584.2 1140.4h27M1593.7 1070h27M1593.7 1117.7h27M1603.2 1098.1h27M1603.2 1149.3h27M1612.7 1089.5h27M1612.7 1139.8h27M1622.2 1067.7h27M1622.2 1120.1h27M1631.7 1083h27M1631.7 1131.3h27M1641.2 1097.6h27M1641.2 1145.3h27M1650.7 1070.3h27M1650.7 1127.9h27M1660.2 1095.7h27M1660.2 1145.2h27M1669.8 1073.2h27M1669.8 1125h27M1679.3 1092.6h27M1679.3 1149.4h27M1688.8 1104.1h27M1688.8 1153.6h27M1698.3 1102.8h27M1698.3 1153.1h27M1707.8 1072.8h27M1707.8 1125.4h27M1717.3 1087.9h27M1717.3 1134.6h27M1726.8 1103.4h27M1726.8 1149.6h27M1736.3 1099h27M1736.3 1152.4h27M1745.8 1120.9h27M1745.8 1171.2h27M1755.3 1109.5h27M1755.3 1156.4h27M1764.8 1086.9h27M1764.8 1136.2h27M1774.3 1110.4h27M1774.3 1164.6h27"/>
<g fill="#fff" stroke="#a299ca" stroke-width="9.1"><rect x="353.4" y="904.4" width="17.3" height="17.3"/><rect x="362.9" y="902.8" width="17.3" height="17.3"/><rect x="372.4" y="911" width="17.3" height="17.3"/><rect x="381.9" y="920.8" width="17.3" height="17.3"/><rect x="391.4" y="921.2" width="17.3" height="17.3"/><rect x="400.9" y="944.8" width="17.3" height="17.3"/><rect x="410.4" y="960.2" width="17.3" height="17.3"/><rect x="419.9" y="968.4" width="17.3" height="17.3"/><rect x="429.4" y="953" width="17.3" height="17.3"/><rect x="438.9" y="979.9" width="17.3" height="17.3"/><rect x="448.4" y="991.4" width="17.3" height="17.3"/><rect x="457.9" y="993" width="17.3" height="17.3"/><rect x="467.4" y="1004.5" width="17.3" height="17.3"/><rect x="476.9" y="1002.9" width="17.3" height="17.3"/><rect x="486.4" y="1014.3" width="17.3" height="17.3"/><rect x="495.9" y="1011.1" width="17.3" height="17.3"/><rect x="505.4" y="1013.2" width="17.3" height="17.3"/><rect x="514.9" y="1020.9" width="17.3" height="17.3"/><rect x="524.4" y="1026" width="17.3" height="17.3"/><rect x="534" y="1040.2" width="17.3" height="17.3"/><rect x="543.5" y="1013.4" width="17.3" height="17.3"/><rect x="553" y="1026.8" width="17.3" height="17.3"/><rect x="562.5" y="1036.7" width="17.3" height="17.3"/><rect x="572" y="1025.3" width="17.3" height="17.3"/><rect x="581.5" y="1042.9" width="17.3" height="17.3"/><rect x="591" y="1060.2" width="17.3" height="17.3"/><rect x="600.5" y="1054.7" width="17.3" height="17.3"/><rect x="610" y="1075" width="17.3" height="17.3"/><rect x="619.5" y="1027.1" width="17.3" height="17.3"/><rect x="629" y="1050.4" width="17.3" height="17.3"/><rect x="638.5" y="1033.8" width="17.3" height="17.3"/><rect x="648" y="1045.2" width="17.3" height="17.3"/><rect x="657.5" y="1057" width="17.3" height="17.3"/><rect x="667" y="1061.8" width="17.3" height="17.3"/><rect x="676.5" y="1066.5" width="17.3" height="17.3"/><rect x="686" y="1043.2" width="17.3" height="17.3"/><rect x="695.5" y="1068.9" width="17.3" height="17.3"/><rect x="705" y="1062.3" width="17.3" height="17.3"/><rect x="714.6" y="1072.1" width="17.3" height="17.3"/><rect x="724.1" y="1048.3" width="17.3" height="17.3"/><rect x="733.6" y="1080.9" width="17.3" height="17.3"/><rect x="743.1" y="1049.8" width="17.3" height="17.3"/><rect x="752.6" y="1048.1" width="17.3" height="17.3"/><rect x="762.1" y="1069.1" width="17.3" height="17.3"/><rect x="771.6" y="1066.1" width="17.3" height="17.3"/><rect x="781.1" y="1060.9" width="17.3" height="17.3"/><rect x="790.6" y="1083.2" width="17.3" height="17.3"/><rect x="800.1" y="1049.1" width="17.3" height="17.3"/><rect x="809.6" y="1080" width="17.3" height="17.3"/><rect x="819.1" y="1061.9" width="17.3" height="17.3"/><rect x="828.6" y="1059.1" width="17.3" height="17.3"/><rect x="838.1" y="1089.5" width="17.3" height="17.3"/><rect x="847.6" y="1059.7" width="17.3" height="17.3"/><rect x="857.1" y="1059.9" width="17.3" height="17.3"/><rect x="866.6" y="1114.1" width="17.3" height="17.3"/><rect x="876.1" y="1079.5" width="17.3" height="17.3"/><rect x="885.7" y="1068.5" width="17.3" height="17.3"/><rect x="895.2" y="1076.2" width="17.3" height="17.3"/><rect x="904.7" y="1072.9" width="17.3" height="17.3"/><rect x="914.2" y="1071.4" width="17.3" height="17.3"/><rect x="923.7" y="1094.7" width="17.3" height="17.3"/><rect x="933.2" y="1125.6" width="17.3" height="17.3"/><rect x="942.7" y="1085.6" width="17.3" height="17.3"/><rect x="952.2" y="1101.8" width="17.3" height="17.3"/><rect x="961.7" y="1078.4" width="17.3" height="17.3"/><rect x="971.2" y="1078.5" width="17.3" height="17.3"/><rect x="980.7" y="1086" width="17.3" height="17.3"/><rect x="990.2" y="1092.9" width="17.3" height="17.3"/><rect x="999.7" y="1086.2" width="17.3" height="17.3"/><rect x="1009.2" y="1090.6" width="17.3" height="17.3"/><rect x="1018.7" y="1088.2" width="17.3" height="17.3"/><rect x="1028.2" y="1074.8" width="17.3" height="17.3"/><rect x="1037.7" y="1072.9" width="17.3" height="17.3"/><rect x="1047.2" y="1081.8" width="17.3" height="17.3"/><rect x="1056.7" y="1080.9" width="17.3" height="17.3"/><rect x="1066.3" y="1080.1" width="17.3" height="17.3"/><rect x="1075.8" y="1100.3" width="17.3" height="17.3"/><rect x="1085.3" y="1088.5" width="17.3" height="17.3"/><rect x="1094.8" y="1089.5" width="17.3" height="17.3"/><rect x="1104.3" y="1068.5" width="17.3" height="17.3"/><rect x="1113.8" y="1095.3" width="17.3" height="17.3"/><rect x="1123.3" y="1109.8" width="17.3" height="17.3"/><rect x="1132.8" y="1084.2" width="17.3" height="17.3"/><rect x="1142.3" y="1090" width="17.3" height="17.3"/><rect x="1151.8" y="1066.2" width="17.3" height="17.3"/><rect x="1161.3" y="1068.1" width="17.3" height="17.3"/><rect x="1170.8" y="1094.7" width="17.3" height="17.3"/><rect x="1180.3" y="1081.6" width="17.3" height="17.3"/><rect x="1189.8" y="1093.6" width="17.3" height="17.3"/><rect x="1199.3" y="1080.9" width="17.3" height="17.3"/><rect x="1208.8" y="1097.7" width="17.3" height="17.3"/><rect x="1218.3" y="1101.9" width="17.3" height="17.3"/><rect x="1227.8" y="1090" width="17.3" height="17.3"/><rect x="1237.4" y="1090.1" width="17.3" height="17.3"/><rect x="1246.9" y="1108.4" width="17.3" height="17.3"/><rect x="1256.4" y="1114.1" width="17.3" height="17.3"/><rect x="1265.9" y="1092.2" width="17.3" height="17.3"/><rect x="1275.4" y="1102.8" width="17.3" height="17.3"/><rect x="1284.9" y="1083.4" width="17.3" height="17.3"/><rect x="1294.4" y="1096.1" width="17.3" height="17.3"/><rect x="1303.9" y="1114.1" width="17.3" height="17.3"/><rect x="1313.4" y="1081.1" width="17.3" height="17.3"/><rect x="1322.9" y="1102.7" width="17.3" height="17.3"/><rect x="1332.4" y="1099.2" width="17.3" height="17.3"/><rect x="1341.9" y="1093.6" width="17.3" height="17.3"/><rect x="1351.4" y="1086.3" width="17.3" height="17.3"/><rect x="1360.9" y="1088.8" width="17.3" height="17.3"/><rect x="1370.4" y="1106.7" width="17.3" height="17.3"/><rect x="1379.9" y="1087.5" width="17.3" height="17.3"/><rect x="1389.4" y="1093.1" width="17.3" height="17.3"/><rect x="1398.9" y="1094.9" width="17.3" height="17.3"/><rect x="1408.4" y="1082.3" width="17.3" height="17.3"/><rect x="1418" y="1099.7" width="17.3" height="17.3"/><rect x="1427.5" y="1102.1" width="17.3" height="17.3"/><rect x="1437" y="1079.6" width="17.3" height="17.3"/><rect x="1446.5" y="1100.8" width="17.3" height="17.3"/><rect x="1456" y="1105.4" width="17.3" height="17.3"/><rect x="1465.5" y="1091.7" width="17.3" height="17.3"/><rect x="1475" y="1086.5" width="17.3" height="17.3"/><rect x="1484.5" y="1107.5" width="17.3" height="17.3"/><rect x="1494" y="1097.1" width="17.3" height="17.3"/><rect x="1503.5" y="1099.3" width="17.3" height="17.3"/><rect x="1513" y="1090.4" width="17.3" height="17.3"/><rect x="1522.5" y="1094.3" width="17.3" height="17.3"/><rect x="1532" y="1096.3" width="17.3" height="17.3"/><rect x="1541.5" y="1090.1" width="17.3" height="17.3"/><rect x="1551" y="1096.2" width="17.3" height="17.3"/><rect x="1560.5" y="1084.2" width="17.3" height="17.3"/><rect x="1570" y="1118" width="17.3" height="17.3"/><rect x="1579.5" y="1105.7" width="17.3" height="17.3"/><rect x="1589.1" y="1103.3" width="17.3" height="17.3"/><rect x="1598.6" y="1085.2" width="17.3" height="17.3"/><rect x="1608.1" y="1115.1" width="17.3" height="17.3"/><rect x="1617.6" y="1106" width="17.3" height="17.3"/><rect x="1627.1" y="1085.2" width="17.3" height="17.3"/><rect x="1636.6" y="1098.5" width="17.3" height="17.3"/><rect x="1646.1" y="1112.8" width="17.3" height="17.3"/><rect x="1655.6" y="1090.5" width="17.3" height="17.3"/><rect x="1665.1" y="1111.8" width="17.3" height="17.3"/><rect x="1674.6" y="1090.5" width="17.3" height="17.3"/><rect x="1684.1" y="1112.4" width="17.3" height="17.3"/><rect x="1693.6" y="1120.2" width="17.3" height="17.3"/><rect x="1703.1" y="1119.3" width="17.3" height="17.3"/><rect x="1712.6" y="1090.5" width="17.3" height="17.3"/><rect x="1722.1" y="1102.6" width="17.3" height="17.3"/><rect x="1731.6" y="1117.9" width="17.3" height="17.3"/><rect x="1741.1" y="1117" width="17.3" height="17.3"/><rect x="1750.6" y="1137.4" width="17.3" height="17.3"/><rect x="1760.1" y="1124.3" width="17.3" height="17.3"/><rect x="1769.7" y="1102.9" width="17.3" height="17.3"/><rect x="1779.2" y="1128.8" width="17.3" height="17.3"/></g></g>
<polyline fill="none" stroke="#0accfb" stroke-width="11" stroke-dasharray="27 17.4" points="362,893.7 366.8,901.7 371.5,909.1 376.3,915.7 381,921.9 385.8,927.8 390.5,933.5 395.3,939.3 400,945 404.8,950.7 409.5,956.3 414.3,961.6 419,966.6 423.8,971.3 428.5,975.5 433.3,979.6 438,983.4 442.8,987.1 447.5,990.6 452.3,993.8 457.1,996.9 461.8,999.7 466.6,1002.4 471.3,1004.9 476.1,1007.3 480.8,1009.6 485.6,1011.8 490.3,1013.9 495.1,1016 499.8,1018.2 504.6,1020.3 509.3,1022.4 514.1,1024.4 518.8,1026.4 523.6,1028.4 528.3,1030.2 533.1,1032 537.8,1033.7 542.6,1035.3 547.4,1036.7 552.1,1038.1 556.9,1039.5 561.6,1040.7 566.4,1042 571.1,1043.2 575.9,1044.3 580.6,1045.5 585.4,1046.6 590.1,1047.7 594.9,1048.8 599.6,1049.9 604.4,1051 609.1,1052 613.9,1053 618.6,1053.9 623.4,1054.9 628.2,1055.8 632.9,1056.7 637.7,1057.6 642.4,1058.4 647.2,1059.2 651.9,1060 656.7,1060.8 661.4,1061.6 666.2,1062.3 670.9,1063.1 675.7,1063.8 680.4,1064.5 685.2,1065.2 689.9,1065.9 694.7,1066.6 699.4,1067.2 704.2,1067.9 708.9,1068.5 713.7,1069.1 718.5,1069.7 723.2,1070.3 728,1070.8 732.7,1071.4 737.5,1071.9 742.2,1072.4 747,1073 751.7,1073.5 756.5,1074 761.2,1074.5 766,1075 770.7,1075.4 775.5,1075.9 780.2,1076.4 785,1076.8 789.7,1077.3 794.5,1077.7 799.2,1078.2 804,1078.6 808.8,1079 813.5,1079.4 818.3,1079.9 823,1080.3 827.8,1080.7 832.5,1081.1 837.3,1081.4 842,1081.8 846.8,1082.2 851.5,1082.6 856.3,1082.9 861,1083.3 865.8,1083.7 870.5,1084 875.3,1084.4 880,1084.7 884.8,1085.1 889.5,1085.4 894.3,1085.8 899.1,1086.1 903.8,1086.4 908.6,1086.8 913.3,1087.1 918.1,1087.5 922.8,1087.8 927.6,1088.1 932.3,1088.5 937.1,1088.8 941.8,1089.1 946.6,1089.4 951.3,1089.7 956.1,1090 960.8,1090.3 965.6,1090.6 970.3,1090.9 975.1,1091.2 979.9,1091.5 984.6,1091.7 989.4,1092 994.1,1092.2 998.9,1092.5 1003.6,1092.7 1008.4,1093 1013.1,1093.2 1017.9,1093.4 1022.6,1093.7 1027.4,1093.9 1032.1,1094.1 1036.9,1094.3 1041.6,1094.5 1046.4,1094.8 1051.1,1095 1055.9,1095.2 1060.6,1095.4 1065.4,1095.6 1070.2,1095.8 1074.9,1096 1079.7,1096.2 1084.4,1096.3 1089.2,1096.5 1093.9,1096.7 1098.7,1096.9 1103.4,1097.1 1108.2,1097.3 1112.9,1097.5 1117.7,1097.7 1122.4,1097.8 1127.2,1098 1131.9,1098.2 1136.7,1098.4 1141.4,1098.5 1146.2,1098.7 1150.9,1098.9 1155.7,1099.1 1160.5,1099.2 1165.2,1099.4 1170,1099.6 1174.7,1099.7 1179.5,1099.9 1184.2,1100 1189,1100.2 1193.7,1100.4 1198.5,1100.5 1203.2,1100.7 1208,1100.8 1212.7,1101 1217.5,1101.1 1222.2,1101.3 1227,1101.4 1231.7,1101.5 1236.5,1101.7 1241.2,1101.8 1246,1101.9 1250.8,1102.1 1255.5,1102.2 1260.3,1102.3 1265,1102.4 1269.8,1102.6 1274.5,1102.7 1279.3,1102.8 1284,1102.9 1288.8,1103 1293.5,1103.1 1298.3,1103.3 1303,1103.4 1307.8,1103.5 1312.5,1103.6 1317.3,1103.7 1322,1103.8 1326.8,1103.9 1331.6,1104 1336.3,1104.1 1341.1,1104.2 1345.8,1104.3 1350.6,1104.4 1355.3,1104.5 1360.1,1104.6 1364.8,1104.7 1369.6,1104.8 1374.3,1104.9 1379.1,1105 1383.8,1105.1 1388.6,1105.2 1393.3,1105.3 1398.1,1105.4 1402.8,1105.5 1407.6,1105.6 1412.3,1105.7 1417.1,1105.8 1421.9,1105.8 1426.6,1105.9 1431.4,1106 1436.1,1106.1 1440.9,1106.2 1445.6,1106.3 1450.4,1106.4 1455.1,1106.5 1459.9,1106.6 1464.6,1106.6 1469.4,1106.7 1474.1,1106.8 1478.9,1106.9 1483.6,1107 1488.4,1107.1 1493.1,1107.1 1497.9,1107.2 1502.6,1107.3 1507.4,1107.4 1512.2,1107.5 1516.9,1107.5 1521.7,1107.6 1526.4,1107.7 1531.2,1107.8 1535.9,1107.8 1540.7,1107.9 1545.4,1108 1550.2,1108.1 1554.9,1108.1 1559.7,1108.2 1564.4,1108.3 1569.2,1108.4 1573.9,1108.4 1578.7,1108.5 1583.4,1108.6 1588.2,1108.7 1592.9,1108.7 1597.7,1108.8 1602.5,1108.9 1607.2,1109 1612,1109 1616.7,1109.1 1621.5,1109.2 1626.2,1109.3 1631,1109.3 1635.7,1109.4 1640.5,1109.5 1645.2,1109.5 1650,1109.6 1654.7,1109.7 1659.5,1109.8 1664.2,1109.8 1669,1109.9 1673.7,1110 1678.5,1110 1683.3,1110.1 1688,1110.2 1692.8,1110.2 1697.5,1110.3 1702.3,1110.4 1707,1110.5 1711.8,1110.5 1716.5,1110.6 1721.3,1110.7 1726,1110.7 1730.8,1110.8 1735.5,1110.9 1740.3,1110.9 1745,1111 1749.8,1111.1 1754.5,1111.1 1759.3,1111.2 1764,1111.3 1768.8,1111.3 1773.6,1111.4 1778.3,1111.4 1783.1,1111.5 1787.8,1111.6"/>
<g id="s3"><path fill="none" stroke="#ff4e04" stroke-width="3" d="M364 295.9L369.5 317.5M373.6 333.3L378.9 354M395.1 380.3L395.4 380.9M460.1 428.5L463.5 437.6"/>
<path fill="none" stroke="#ff4e04" stroke-width="2.8" d="M628.2 482.9V483.1M628.2 498.9V499.1M666.2 491.2V491.8M666.2 507.6V508.2M675.7 495.9V496.4M675.7 512.2V512.7M704.2 504.7V505.3M704.2 521.1V521.7M837.3 531.6V531.8M837.3 547.6V547.8M875.3 551.6V551.8M875.3 567.6V567.8M913.3 559.6V559.8M913.3 575.6V575.7M922.8 558V558.4M922.8 574.2V574.6M932.3 553.7V553.8M932.3 569.6V569.6M979.9 548.3V548.5M979.9 564.3V564.6M1027.4 550.5V550.7M1027.4 566.5V566.6M1074.9 554.4V554.4M1074.9 570.2V570.2M1103.4 543.9V544.5M1103.4 560.3V560.9M1112.9 540.2V540.6M1112.9 556.4V556.7M1160.5 526V526.2M1160.5 542V542.2M1170 526.6V526.8M1170 542.6V542.8M1189 537.2V537.7M1189 553.5V553.9M1236.5 545.7V545.8M1236.5 561.6V561.7M1246 546.8V547.3M1246 563.1V563.7M1255.5 544.8V545.3M1255.5 561.1V561.5M1322 547.6V547.9M1322 563.7V564M1379.1 552.7V552.9M1379.1 568.7V569M1426.6 557.6V557.7M1426.6 573.5V573.5M1436.1 561.6V562.1M1436.1 577.9V578.4M1445.6 568.4V568.7M1445.6 584.5V584.7M1455.1 566.2V566.6M1455.1 582.4V582.8M1483.6 577.8V578.2M1483.6 594V594.4M1493.1 572.4V572.7M1493.1 588.5V588.8M1550.2 565.5V565.9M1550.2 581.7V582.2M1569.2 565V565.7M1569.2 581.5V582.1M1588.2 566.9V567.1M1588.2 582.9V583.1M1626.2 578.1V578.1M1626.2 593.9V594M1635.7 584.9V585M1635.7 600.8V600.8M1645.2 596.4V596.4M1645.2 612.2V612.2M1664.2 593.1V593.3M1664.2 609.1V609.2M1683.3 593.9V594.4M1683.3 610.2V610.8M1711.8 588.5V589.1M1711.8 604.9V605.6M1740.3 587V587M1740.3 602.8V602.9M1749.8 588.4V588.6M1749.8 604.4V604.7"/>
<path fill="none" stroke="#ff4e04" stroke-width="2.8" d="M348.2 282.6h27.5M348.2 293.5h27.5M357.8 320.4h27.5M357.8 330.5h27.5M367.3 357.3h27.5M367.3 366.4h27.5M376.8 366.5h27.5M376.8 378.2h27.5M386.3 384.1h27.5M386.3 393.5h27.5M395.8 396.4h27.5M395.8 408.1h27.5M405.3 406.3h27.5M405.3 415.8h27.5M414.8 408.6h27.5M414.8 421.4h27.5M424.3 411.5h27.5M424.3 423.8h27.5M433.8 412.6h27.5M433.8 424h27.5M443.3 414.9h27.5M443.3 426.3h27.5M452.8 439.5h27.5M452.8 451.6h27.5M462.3 442.5h27.5M462.3 455.1h27.5M471.8 447.2h27.5M471.8 459.6h27.5M481.3 449.3h27.5M481.3 462.3h27.5M490.8 456.8h27.5M490.8 467.7h27.5M500.3 461.7h27.5M500.3 474.1h27.5M509.8 466.1h27.5M509.8 479.9h27.5M519.3 470.6h27.5M519.3 483.4h27.5M528.9 474.6h27.5M528.9 489.6h27.5M538.4 481.3h27.5M538.4 494.8h27.5M547.9 484.6h27.5M547.9 497.4h27.5M557.4 486.6h27.5M557.4 501.9h27.5M566.9 483.7h27.5M566.9 497.2h27.5M576.4 483.7h27.5M576.4 497.9h27.5M585.9 481.1h27.5M585.9 495.9h27.5M595.4 480.7h27.5M595.4 496.5h27.5M604.9 483.4h27.5M604.9 496.9h27.5M614.4 482.9h27.5M614.4 499.1h27.5M623.9 491.9h27.5M623.9 507.1h27.5M633.4 490.7h27.5M633.4 505.3h27.5M642.9 491.2h27.5M642.9 505.6h27.5M652.4 491.2h27.5M652.4 508.2h27.5M661.9 495.9h27.5M661.9 512.7h27.5M671.4 496.4h27.5M671.4 511.7h27.5M680.9 497.1h27.5M680.9 511.6h27.5M690.4 504.7h27.5M690.4 521.7h27.5M699.9 505.4h27.5M699.9 518.6h27.5M709.5 506.5h27.5M709.5 519.8h27.5M719 511.2h27.5M719 526.2h27.5M728.5 510.9h27.5M728.5 526.4h27.5M738 517.3h27.5M738 530.5h27.5M747.5 518.8h27.5M747.5 532.6h27.5M757 521.2h27.5M757 534.7h27.5M766.5 521.3h27.5M766.5 535.4h27.5M776 524.1h27.5M776 537.9h27.5M785.5 524.3h27.5M785.5 537.9h27.5M795 529.5h27.5M795 543.1h27.5M804.5 529.3h27.5M804.5 543.9h27.5M814 529.8h27.5M814 543.4h27.5M823.5 531.6h27.5M823.5 547.8h27.5M833 538.5h27.5M833 553.3h27.5M842.5 539.3h27.5M842.5 552.8h27.5M852 547.1h27.5M852 562.8h27.5M861.5 551.6h27.5M861.5 567.8h27.5M871 555.7h27.5M871 570.2h27.5M880.6 556.2h27.5M880.6 569.3h27.5M890.1 556.7h27.5M890.1 572.4h27.5M899.6 559.6h27.5M899.6 575.7h27.5M909.1 558h27.5M909.1 574.6h27.5M918.6 553.7h27.5M918.6 569.6h27.5M928.1 553.2h27.5M928.1 568.6h27.5M937.6 549.1h27.5M937.6 563.6h27.5M947.1 550.9h27.5M947.1 564.9h27.5M956.6 553.1h27.5M956.6 566.4h27.5M966.1 548.3h27.5M966.1 564.6h27.5M975.6 552.3h27.5M975.6 567.7h27.5M985.1 555.4h27.5M985.1 569.7h27.5M994.6 548.7h27.5M994.6 562.3h27.5M1004.1 555.9h27.5M1004.1 570.2h27.5M1013.6 550.5h27.5M1013.6 566.6h27.5M1023.1 551h27.5M1023.1 565h27.5M1032.6 552.8h27.5M1032.6 566.1h27.5M1042.1 555.4h27.5M1042.1 570.1h27.5M1051.6 550.7h27.5M1051.6 565.1h27.5M1061.2 554.4h27.5M1061.2 570.2h27.5M1070.7 553.6h27.5M1070.7 568.9h27.5M1080.2 549.8h27.5M1080.2 564.8h27.5M1089.7 543.9h27.5M1089.7 560.9h27.5M1099.2 540.2h27.5M1099.2 556.7h27.5M1108.7 534.2h27.5M1108.7 547.8h27.5M1118.2 531.2h27.5M1118.2 545.3h27.5M1127.7 527h27.5M1127.7 541.8h27.5M1137.2 527.8h27.5M1137.2 541.2h27.5M1146.7 526h27.5M1146.7 542.2h27.5M1156.2 526.6h27.5M1156.2 542.8h27.5M1165.7 533.6h27.5M1165.7 547.9h27.5M1175.2 537.2h27.5M1175.2 553.9h27.5M1184.7 543.9h27.5M1184.7 559.2h27.5M1194.2 546.1h27.5M1194.2 560.1h27.5M1203.7 545.3h27.5M1203.7 560.9h27.5M1213.2 546.5h27.5M1213.2 562.3h27.5M1222.7 545.7h27.5M1222.7 561.7h27.5M1232.3 546.8h27.5M1232.3 563.7h27.5M1241.8 544.8h27.5M1241.8 561.5h27.5M1251.3 549.9h27.5M1251.3 564.6h27.5M1260.8 550.1h27.5M1260.8 564.9h27.5M1270.3 552.1h27.5M1270.3 565.3h27.5M1279.8 548.8h27.5M1279.8 563.6h27.5M1289.3 547.6h27.5M1289.3 561.4h27.5M1298.8 550h27.5M1298.8 563.6h27.5M1308.3 547.6h27.5M1308.3 564h27.5M1317.8 548.4h27.5M1317.8 561.7h27.5M1327.3 550.5h27.5M1327.3 564.1h27.5M1336.8 551.1h27.5M1336.8 566.8h27.5M1346.3 549.7h27.5M1346.3 565.1h27.5M1355.8 552.8h27.5M1355.8 567.6h27.5M1365.3 552.7h27.5M1365.3 569h27.5M1374.8 553.3h27.5M1374.8 567.3h27.5M1384.3 554h27.5M1384.3 567.9h27.5M1393.8 556.6h27.5M1393.8 571.8h27.5M1403.3 558.6h27.5M1403.3 572.1h27.5M1412.9 557.6h27.5M1412.9 573.5h27.5M1422.4 561.6h27.5M1422.4 578.4h27.5M1431.9 568.4h27.5M1431.9 584.7h27.5M1441.4 566.2h27.5M1441.4 582.8h27.5M1450.9 573.6h27.5M1450.9 587h27.5M1460.4 574.2h27.5M1460.4 589h27.5M1469.9 577.8h27.5M1469.9 594.4h27.5M1479.4 572.4h27.5M1479.4 588.8h27.5M1488.9 573.8h27.5M1488.9 589.2h27.5M1498.4 570h27.5M1498.4 585.7h27.5M1507.9 571.2h27.5M1507.9 585.4h27.5M1517.4 567.9h27.5M1517.4 582.1h27.5M1526.9 567.6h27.5M1526.9 581h27.5M1536.4 565.5h27.5M1536.4 582.2h27.5M1545.9 565.6h27.5M1545.9 579.9h27.5M1555.4 565h27.5M1555.4 582.1h27.5M1564.9 565.5h27.5M1564.9 578.7h27.5M1574.4 566.9h27.5M1574.4 583.1h27.5M1584 569.9h27.5M1584 585.1h27.5M1593.5 572.6h27.5M1593.5 585.9h27.5M1603 574.7h27.5M1603 590.4h27.5M1612.5 578.1h27.5M1612.5 594h27.5M1622 584.9h27.5M1622 600.8h27.5M1631.5 596.4h27.5M1631.5 612.2h27.5M1641 595.8h27.5M1641 611.6h27.5M1650.5 593.1h27.5M1650.5 609.2h27.5M1660 595.2h27.5M1660 609.8h27.5M1669.5 593.9h27.5M1669.5 610.8h27.5M1679 592.2h27.5M1679 607.3h27.5M1688.5 593h27.5M1688.5 607.2h27.5M1698 588.5h27.5M1698 605.6h27.5M1707.5 590.3h27.5M1707.5 604.5h27.5M1717 586.6h27.5M1717 601.5h27.5M1726.5 587h27.5M1726.5 602.9h27.5M1736 588.4h27.5M1736 604.7h27.5M1745.5 586.6h27.5M1745.5 601h27.5M1755 586.5h27.5M1755 599.8h27.5M1764.6 588.1h27.5M1764.6 603.5h27.5M1774.1 587.9h27.5M1774.1 603.3h27.5"/>
<g fill="#ff4e04" stroke="none"><rect x="354.1" y="280.1" width="15.8" height="15.8"/><rect x="363.6" y="317.5" width="15.8" height="15.8"/><rect x="373.1" y="354" width="15.8" height="15.8"/><rect x="382.6" y="364.5" width="15.8" height="15.8"/><rect x="392.1" y="380.9" width="15.8" height="15.8"/><rect x="401.6" y="394.3" width="15.8" height="15.8"/><rect x="411.1" y="403.2" width="15.8" height="15.8"/><rect x="420.6" y="407.1" width="15.8" height="15.8"/><rect x="430.1" y="409.7" width="15.8" height="15.8"/><rect x="439.6" y="410.4" width="15.8" height="15.8"/><rect x="449.2" y="412.7" width="15.8" height="15.8"/><rect x="458.7" y="437.6" width="15.8" height="15.8"/><rect x="468.2" y="440.9" width="15.8" height="15.8"/><rect x="477.7" y="445.5" width="15.8" height="15.8"/><rect x="487.2" y="447.9" width="15.8" height="15.8"/><rect x="496.7" y="454.3" width="15.8" height="15.8"/><rect x="506.2" y="460" width="15.8" height="15.8"/><rect x="515.7" y="465.1" width="15.8" height="15.8"/><rect x="525.2" y="469.1" width="15.8" height="15.8"/><rect x="534.7" y="474.2" width="15.8" height="15.8"/><rect x="544.2" y="480.1" width="15.8" height="15.8"/><rect x="553.7" y="483.1" width="15.8" height="15.8"/><rect x="563.2" y="486.3" width="15.8" height="15.8"/><rect x="572.7" y="482.6" width="15.8" height="15.8"/><rect x="582.2" y="482.9" width="15.8" height="15.8"/><rect x="591.7" y="480.6" width="15.8" height="15.8"/><rect x="601.2" y="480.7" width="15.8" height="15.8"/><rect x="610.7" y="482.3" width="15.8" height="15.8"/><rect x="620.3" y="483.1" width="15.8" height="15.8"/><rect x="629.8" y="491.6" width="15.8" height="15.8"/><rect x="639.3" y="490.1" width="15.8" height="15.8"/><rect x="648.8" y="490.5" width="15.8" height="15.8"/><rect x="658.3" y="491.8" width="15.8" height="15.8"/><rect x="667.8" y="496.4" width="15.8" height="15.8"/><rect x="677.3" y="496.2" width="15.8" height="15.8"/><rect x="686.8" y="496.5" width="15.8" height="15.8"/><rect x="696.3" y="505.3" width="15.8" height="15.8"/><rect x="705.8" y="504.1" width="15.8" height="15.8"/><rect x="715.3" y="505.3" width="15.8" height="15.8"/><rect x="724.8" y="510.8" width="15.8" height="15.8"/><rect x="734.3" y="510.7" width="15.8" height="15.8"/><rect x="743.8" y="516" width="15.8" height="15.8"/><rect x="753.3" y="517.8" width="15.8" height="15.8"/><rect x="762.8" y="520.1" width="15.8" height="15.8"/><rect x="772.3" y="520.5" width="15.8" height="15.8"/><rect x="781.8" y="523.1" width="15.8" height="15.8"/><rect x="791.3" y="523.2" width="15.8" height="15.8"/><rect x="800.9" y="528.4" width="15.8" height="15.8"/><rect x="810.4" y="528.7" width="15.8" height="15.8"/><rect x="819.9" y="528.7" width="15.8" height="15.8"/><rect x="829.4" y="531.8" width="15.8" height="15.8"/><rect x="838.9" y="538" width="15.8" height="15.8"/><rect x="848.4" y="538.1" width="15.8" height="15.8"/><rect x="857.9" y="547" width="15.8" height="15.8"/><rect x="867.4" y="551.8" width="15.8" height="15.8"/><rect x="876.9" y="555.1" width="15.8" height="15.8"/><rect x="886.4" y="554.9" width="15.8" height="15.8"/><rect x="895.9" y="556.6" width="15.8" height="15.8"/><rect x="905.4" y="559.8" width="15.8" height="15.8"/><rect x="914.9" y="558.4" width="15.8" height="15.8"/><rect x="924.4" y="553.8" width="15.8" height="15.8"/><rect x="933.9" y="553" width="15.8" height="15.8"/><rect x="943.4" y="548.4" width="15.8" height="15.8"/><rect x="952.9" y="550" width="15.8" height="15.8"/><rect x="962.4" y="551.9" width="15.8" height="15.8"/><rect x="972" y="548.5" width="15.8" height="15.8"/><rect x="981.5" y="552.1" width="15.8" height="15.8"/><rect x="991" y="554.7" width="15.8" height="15.8"/><rect x="1000.5" y="547.6" width="15.8" height="15.8"/><rect x="1010" y="555.1" width="15.8" height="15.8"/><rect x="1019.5" y="550.7" width="15.8" height="15.8"/><rect x="1029" y="550.1" width="15.8" height="15.8"/><rect x="1038.5" y="551.5" width="15.8" height="15.8"/><rect x="1048" y="554.9" width="15.8" height="15.8"/><rect x="1057.5" y="550" width="15.8" height="15.8"/><rect x="1067" y="554.4" width="15.8" height="15.8"/><rect x="1076.5" y="553.3" width="15.8" height="15.8"/><rect x="1086" y="549.4" width="15.8" height="15.8"/><rect x="1095.5" y="544.5" width="15.8" height="15.8"/><rect x="1105" y="540.6" width="15.8" height="15.8"/><rect x="1114.5" y="533.1" width="15.8" height="15.8"/><rect x="1124" y="530.3" width="15.8" height="15.8"/><rect x="1133.5" y="526.5" width="15.8" height="15.8"/><rect x="1143" y="526.6" width="15.8" height="15.8"/><rect x="1152.6" y="526.2" width="15.8" height="15.8"/><rect x="1162.1" y="526.8" width="15.8" height="15.8"/><rect x="1171.6" y="532.9" width="15.8" height="15.8"/><rect x="1181.1" y="537.7" width="15.8" height="15.8"/><rect x="1190.6" y="543.7" width="15.8" height="15.8"/><rect x="1200.1" y="545.2" width="15.8" height="15.8"/><rect x="1209.6" y="545.2" width="15.8" height="15.8"/><rect x="1219.1" y="546.5" width="15.8" height="15.8"/><rect x="1228.6" y="545.8" width="15.8" height="15.8"/><rect x="1238.1" y="547.3" width="15.8" height="15.8"/><rect x="1247.6" y="545.3" width="15.8" height="15.8"/><rect x="1257.1" y="549.4" width="15.8" height="15.8"/><rect x="1266.6" y="549.6" width="15.8" height="15.8"/><rect x="1276.1" y="550.8" width="15.8" height="15.8"/><rect x="1285.6" y="548.3" width="15.8" height="15.8"/><rect x="1295.1" y="546.6" width="15.8" height="15.8"/><rect x="1304.6" y="548.9" width="15.8" height="15.8"/><rect x="1314.1" y="547.9" width="15.8" height="15.8"/><rect x="1323.7" y="547.1" width="15.8" height="15.8"/><rect x="1333.2" y="549.4" width="15.8" height="15.8"/><rect x="1342.7" y="551" width="15.8" height="15.8"/><rect x="1352.2" y="549.5" width="15.8" height="15.8"/><rect x="1361.7" y="552.3" width="15.8" height="15.8"/><rect x="1371.2" y="552.9" width="15.8" height="15.8"/><rect x="1380.7" y="552.4" width="15.8" height="15.8"/><rect x="1390.2" y="553" width="15.8" height="15.8"/><rect x="1399.7" y="556.3" width="15.8" height="15.8"/><rect x="1409.2" y="557.4" width="15.8" height="15.8"/><rect x="1418.7" y="557.7" width="15.8" height="15.8"/><rect x="1428.2" y="562.1" width="15.8" height="15.8"/><rect x="1437.7" y="568.7" width="15.8" height="15.8"/><rect x="1447.2" y="566.6" width="15.8" height="15.8"/><rect x="1456.7" y="572.4" width="15.8" height="15.8"/><rect x="1466.2" y="573.7" width="15.8" height="15.8"/><rect x="1475.7" y="578.2" width="15.8" height="15.8"/><rect x="1485.2" y="572.7" width="15.8" height="15.8"/><rect x="1494.7" y="573.6" width="15.8" height="15.8"/><rect x="1504.3" y="570" width="15.8" height="15.8"/><rect x="1513.8" y="570.4" width="15.8" height="15.8"/><rect x="1523.3" y="567.1" width="15.8" height="15.8"/><rect x="1532.8" y="566.4" width="15.8" height="15.8"/><rect x="1542.3" y="565.9" width="15.8" height="15.8"/><rect x="1551.8" y="564.8" width="15.8" height="15.8"/><rect x="1561.3" y="565.7" width="15.8" height="15.8"/><rect x="1570.8" y="564.2" width="15.8" height="15.8"/><rect x="1580.3" y="567.1" width="15.8" height="15.8"/><rect x="1589.8" y="569.6" width="15.8" height="15.8"/><rect x="1599.3" y="571.3" width="15.8" height="15.8"/><rect x="1608.8" y="574.7" width="15.8" height="15.8"/><rect x="1618.3" y="578.1" width="15.8" height="15.8"/><rect x="1627.8" y="585" width="15.8" height="15.8"/><rect x="1637.3" y="596.4" width="15.8" height="15.8"/><rect x="1646.8" y="595.8" width="15.8" height="15.8"/><rect x="1656.3" y="593.3" width="15.8" height="15.8"/><rect x="1665.8" y="594.6" width="15.8" height="15.8"/><rect x="1675.4" y="594.4" width="15.8" height="15.8"/><rect x="1684.9" y="591.9" width="15.8" height="15.8"/><rect x="1694.4" y="592.2" width="15.8" height="15.8"/><rect x="1703.9" y="589.1" width="15.8" height="15.8"/><rect x="1713.4" y="589.5" width="15.8" height="15.8"/><rect x="1722.9" y="586.2" width="15.8" height="15.8"/><rect x="1732.4" y="587" width="15.8" height="15.8"/><rect x="1741.9" y="588.6" width="15.8" height="15.8"/><rect x="1751.4" y="585.9" width="15.8" height="15.8"/><rect x="1760.9" y="585.2" width="15.8" height="15.8"/><rect x="1770.4" y="587.9" width="15.8" height="15.8"/><rect x="1779.9" y="587.7" width="15.8" height="15.8"/></g></g>
<polyline fill="none" stroke="#0accfb" stroke-width="11" stroke-dasharray="27 17.4" points="362,329.7 366.8,339 371.5,347.1 376.3,353.8 381,359.9 385.8,365.5 390.5,370.7 395.3,375.7 400,380.5 404.8,385 409.5,389.4 414.3,393.5 419,397.5 423.8,401.4 428.5,405.2 433.3,408.9 438,412.5 442.8,416 447.5,419.4 452.3,422.7 457.1,426 461.8,429.2 466.6,432.4 471.3,435.6 476.1,438.7 480.8,441.9 485.6,444.9 490.3,447.9 495.1,450.8 499.8,453.5 504.6,456 509.3,458.4 514.1,460.7 518.8,462.9 523.6,465 528.3,467 533.1,469 537.8,470.9 542.6,472.8 547.4,474.6 552.1,476.4 556.9,478.2 561.6,479.9 566.4,481.5 571.1,483.2 575.9,484.8 580.6,486.3 585.4,487.9 590.1,489.4 594.9,490.9 599.6,492.3 604.4,493.7 609.1,495.1 613.9,496.5 618.6,497.8 623.4,499.1 628.2,500.3 632.9,501.5 637.7,502.6 642.4,503.7 647.2,504.8 651.9,505.8 656.7,506.8 661.4,507.8 666.2,508.8 670.9,509.8 675.7,510.9 680.4,511.9 685.2,512.8 689.9,513.8 694.7,514.8 699.4,515.8 704.2,516.8 708.9,517.7 713.7,518.7 718.5,519.7 723.2,520.7 728,521.7 732.7,522.8 737.5,523.8 742.2,524.8 747,525.8 751.7,526.7 756.5,527.6 761.2,528.4 766,529.1 770.7,529.9 775.5,530.6 780.2,531.3 785,532 789.7,532.7 794.5,533.3 799.2,534 804,534.6 808.8,535.2 813.5,535.8 818.3,536.5 823,537.1 827.8,537.6 832.5,538.2 837.3,538.8 842,539.4 846.8,540 851.5,540.6 856.3,541.2 861,541.8 865.8,542.4 870.5,543 875.3,543.5 880,544.1 884.8,544.6 889.5,545.1 894.3,545.6 899.1,546.1 903.8,546.5 908.6,547 913.3,547.4 918.1,547.8 922.8,548.2 927.6,548.6 932.3,549.1 937.1,549.5 941.8,550 946.6,550.5 951.3,551.1 956.1,551.6 960.8,552.2 965.6,552.7 970.3,553.2 975.1,553.7 979.9,554.1 984.6,554.6 989.4,555 994.1,555.4 998.9,555.7 1003.6,556.1 1008.4,556.5 1013.1,556.9 1017.9,557.2 1022.6,557.6 1027.4,557.9 1032.1,558.2 1036.9,558.6 1041.6,558.9 1046.4,559.2 1051.1,559.5 1055.9,559.8 1060.6,560.1 1065.4,560.4 1070.2,560.6 1074.9,560.9 1079.7,561.2 1084.4,561.4 1089.2,561.7 1093.9,562 1098.7,562.2 1103.4,562.4 1108.2,562.7 1112.9,562.9 1117.7,563.2 1122.4,563.4 1127.2,563.6 1131.9,563.8 1136.7,564.1 1141.4,564.3 1146.2,564.5 1150.9,564.7 1155.7,564.9 1160.5,565.1 1165.2,565.3 1170,565.5 1174.7,565.7 1179.5,566 1184.2,566.2 1189,566.4 1193.7,566.6 1198.5,566.8 1203.2,567 1208,567.2 1212.7,567.4 1217.5,567.6 1222.2,567.8 1227,568 1231.7,568.2 1236.5,568.4 1241.2,568.6 1246,568.8 1250.8,568.9 1255.5,569.1 1260.3,569.3 1265,569.5 1269.8,569.7 1274.5,569.9 1279.3,570 1284,570.2 1288.8,570.4 1293.5,570.6 1298.3,570.8 1303,571 1307.8,571.1 1312.5,571.3 1317.3,571.5 1322,571.7 1326.8,571.9 1331.6,572.1 1336.3,572.3 1341.1,572.5 1345.8,572.7 1350.6,572.9 1355.3,573.2 1360.1,573.4 1364.8,573.6 1369.6,573.9 1374.3,574.1 1379.1,574.3 1383.8,574.6 1388.6,574.8 1393.3,575.1 1398.1,575.3 1402.8,575.6 1407.6,575.8 1412.3,576.1 1417.1,576.3 1421.9,576.6 1426.6,576.8 1431.4,577 1436.1,577.3 1440.9,577.5 1445.6,577.7 1450.4,577.9 1455.1,578.2 1459.9,578.4 1464.6,578.6 1469.4,578.7 1474.1,578.9 1478.9,579.1 1483.6,579.3 1488.4,579.5 1493.1,579.6 1497.9,579.8 1502.6,580 1507.4,580.1 1512.2,580.3 1516.9,580.4 1521.7,580.6 1526.4,580.7 1531.2,580.9 1535.9,581.1 1540.7,581.2 1545.4,581.3 1550.2,581.5 1554.9,581.6 1559.7,581.8 1564.4,581.9 1569.2,582.1 1573.9,582.2 1578.7,582.3 1583.4,582.5 1588.2,582.6 1592.9,582.7 1597.7,582.9 1602.5,583 1607.2,583.1 1612,583.3 1616.7,583.4 1621.5,583.5 1626.2,583.7 1631,583.8 1635.7,583.9 1640.5,584 1645.2,584.2 1650,584.3 1654.7,584.4 1659.5,584.5 1664.2,584.6 1669,584.7 1673.7,584.9 1678.5,585 1683.3,585.1 1688,585.2 1692.8,585.3 1697.5,585.4 1702.3,585.5 1707,585.6 1711.8,585.7 1716.5,585.8 1721.3,585.9 1726,586 1730.8,586.1 1735.5,586.2 1740.3,586.3 1745,586.4 1749.8,586.5 1754.5,586.6 1759.3,586.7 1764,586.8 1768.8,586.9 1773.6,587 1778.3,587.1 1783.1,587.2 1787.8,587.3"/>
<g id="s4"><path fill="none" stroke="#f7935b" stroke-width="3.2" d="M366.2 169L367.3 172.5M374.6 198.9L378 213.5M392.8 260.9L397.8 290.3M404.4 290.3L405.1 288.1M411.3 288.1L417.3 332.3M441.9 361L443.7 367.4M450.1 367.4L454.5 344.2M461.6 317.8L462 316.7M468 316.7L474.6 378.2M480.3 404.6L481.3 407.7M498.7 413.1L501 421.5M508.5 421.5L510.1 416.1M536 422.6L539.7 438.9M601.3 442.8L607.5 392.8M611.6 392.8L616.2 418.2M642.4 458.4L642.4 458.6M774.7 503.7L776.3 509.1M802.1 501.6L805.9 483.3M811.2 483.3L815.9 509.1M820.8 509.1L825.2 485.6M859.8 431.7L862.3 422.3M907.8 437.7L909.4 443.2M926.9 493.3L928.2 497.3M934.2 497.3L939.9 458.1M943.4 458.1L949.8 511.1M993.1 529.1L995.1 521.7M1021.7 532.4L1023.6 525.7M1030.9 525.7L1033.4 535.4M1202.5 562.7L1203.9 558.1M1230.4 570L1233.1 580.6M1298.2 576.4L1298.3 576.2M1306.9 576.2L1308.7 582.6M1383.6 626L1384 627.2M1390.9 627.2L1395.8 598.5M1400.8 598.5L1404.8 617.7M1410.2 617.7L1414.5 595.2M1525.6 628.5L1527.2 634.1M1639.8 620.8L1641.1 624.9"/>
<path fill="none" stroke="#f7935b" stroke-width="4.0" d="M362 140.8V142.6M362 169V170.8M371.5 170.2V172.5M371.5 198.9V201.2M381 210.7V213.5M381 239.9V242.7M390.5 233V234.5M390.5 260.9V262.4M400 287.5V290.3M400 316.7V319.4M409.5 260.8V261.7M409.5 288.1V289.1M419 331.7V332.3M419 358.7V359.3M428.5 338V338.8M428.5 365.2V366.1M438 332.3V334.6M438 361V363.2M447.5 364.6V367.4M447.5 393.8V396.5M457.1 316.4V317.8M457.1 344.2V345.6M466.6 288.1V290.3M466.6 316.7V318.8M476.1 377.9V378.2M476.1 404.6V404.9M485.6 406.2V407.7M485.6 434.1V435.6M495.1 385.5V386.7M495.1 413.1V414.4M504.6 420.3V421.5M504.6 447.9V449.1M514.1 389.2V389.7M514.1 416.1V416.5M523.6 413.4V415.3M523.6 441.7V443.5M533.1 394.2V396.2M533.1 422.6V424.7M542.6 437V438.9M542.6 465.3V467.2M552.1 421.9V424.1M552.1 450.5V452.8M561.6 424.5V425.8M561.6 452.2V453.5M571.1 446.5V449.1M571.1 475.5V478M580.6 432.7V434.3M580.6 460.7V462.3M590.1 447.7V450.4M590.1 476.8V479.4M599.6 441.7V442.8M599.6 469.2V470.3M609.1 364.3V366.4M609.1 392.8V394.8M618.6 417.8V418.2M618.6 444.6V445M628.2 417.5V417.5M628.2 443.9V443.9M637.7 429.2V432M637.7 458.4V461.2M647.2 457.6V458.6M647.2 485V485.9M666.2 441.7V443.4M666.2 469.8V471.6M675.7 445.6V448.4M675.7 474.8V477.5M685.2 459.7V461.9M685.2 488.3V490.6M694.7 458.7V461.6M694.7 488V490.9M704.2 450.6V453.3M704.2 479.7V482.5M713.7 466.9V468.1M713.7 494.5V495.7M723.2 484.9V485.3M723.2 511.7V512.2M742.2 486.2V486.8M742.2 513.2V513.8M751.7 491.5V493.2M751.7 519.6V521.3M761.2 467.8V470.4M761.2 496.8V499.5M780.2 506.8V509.1M780.2 535.5V537.8M789.7 483.3V485.5M789.7 511.9V514M799.2 499.7V501.6M799.2 528V529.9M808.8 456.9V456.9M808.8 483.3V483.4M827.8 457.2V459.2M827.8 485.6V487.7M837.3 448.8V450.5M837.3 476.9V478.6M875.3 394.4V394.6M875.3 421V421.2M894.3 397.4V397.6M894.3 424V424.1M922.8 464.5V466.9M922.8 493.3V495.7M932.3 497V497.3M932.3 523.7V524M941.8 429.7V431.7M941.8 458.1V460.1M951.3 510.4V511.1M951.3 537.5V538.1M960.8 502.3V503.5M960.8 529.9V531.2M970.3 519.6V522.6M970.3 549V551.9M979.9 504.6V506.2M979.9 532.6V534.1M989.4 525.9V529.1M989.4 555.5V558.7M998.9 493V495.3M998.9 521.7V524M1008.4 514.6V516M1008.4 542.4V543.8M1017.9 531V532.4M1017.9 558.8V560.2M1027.4 498.6V499.3M1027.4 525.7V526.3M1036.9 532.8V535.4M1036.9 561.8V564.4M1046.4 515.7V519.3M1046.4 545.7V549.2M1055.9 537.3V539M1055.9 565.4V567M1065.4 523.3V525.8M1065.4 552.2V554.8M1074.9 531.4V535.7M1074.9 562.1V566.4M1084.4 525V527.5M1084.4 553.9V556.4M1093.9 539.4V543.7M1093.9 570.1V574.5M1103.4 517.2V521.2M1103.4 547.6V551.7M1112.9 534.3V537.4M1112.9 563.8V566.9M1122.4 529.8V533.4M1122.4 559.8V563.5M1131.9 525.6V527.5M1131.9 553.9V555.8M1141.4 537.4V540.9M1141.4 567.3V570.9M1150.9 531.7V536.1M1150.9 562.5V566.9M1160.5 542.1V544.9M1160.5 571.3V574.1M1170 527.6V530M1170 556.4V558.7M1179.5 534V536.4M1179.5 562.8V565.2M1189 543.4V546.4M1189 572.8V575.7M1198.5 559.3V562.7M1198.5 589.1V592.4M1208 526.4V531.7M1208 558.1V563.5M1217.5 534.9V539.2M1217.5 565.6V569.9M1227 538.9V543.6M1227 570V574.6M1236.5 576.6V580.6M1236.5 607V611.1M1246 551.5V555.6M1246 582V586.2M1255.5 554.3V559.4M1255.5 585.8V590.8M1265 550.5V556.4M1265 582.8V588.6M1274.5 543.4V547.5M1274.5 573.9V578M1284 562.7V567.8M1284 594.2V599.2M1293.5 570.6V576.4M1293.5 602.8V608.7M1303 542.8V549.8M1303 576.2V583.2M1312.5 577.7V582.6M1312.5 609V613.9M1322 560.5V565.9M1322 592.3V597.7M1331.6 573.7V579.8M1331.6 606.2V612.3M1341.1 598.6V603.4M1341.1 629.8V634.7M1350.6 596.5V602.9M1350.6 629.3V635.8M1360.1 575.1V582.9M1360.1 609.3V617.2M1369.6 587V592.6M1369.6 619V624.7M1379.1 593.1V599.6M1379.1 626V632.4M1388.6 621.9V627.2M1388.6 653.6V659M1398.1 565.3V572.1M1398.1 598.5V605.3M1407.6 609.3V617.7M1407.6 644.1V652.5M1417.1 561.7V568.8M1417.1 595.2V602.3M1426.6 586.7V592.9M1426.6 619.3V625.4M1436.1 609.7V616.3M1436.1 642.7V649.3M1445.6 587.5V595.3M1445.6 621.7V629.4M1455.1 612.3V620.9M1455.1 647.3V656M1464.6 605.5V612.8M1464.6 639.2V646.5M1474.1 625V632.5M1474.1 658.9V666.4M1483.6 611.6V620.1M1483.6 646.5V655.1M1493.1 617V623.2M1493.1 649.6V655.9M1502.6 594.9V603.9M1502.6 630.3V639.4M1512.2 595.8V603.3M1512.2 629.7V637.2M1521.7 595.1V602.1M1521.7 628.5V635.6M1531.2 625.6V634.1M1531.2 660.5V669M1540.7 604V610.8M1540.7 637.2V644.1M1550.2 611.8V618.3M1550.2 644.7V651.2M1559.7 604.8V611.7M1559.7 638.1V645M1569.2 612.6V620.9M1569.2 647.3V655.5M1578.7 611.3V617.7M1578.7 644.1V650.5M1588.2 599.2V606.7M1588.2 633.1V640.7M1597.7 623V629.9M1597.7 656.3V663.1M1607.2 615.4V623.3M1607.2 649.7V657.6M1616.7 625.3V631.9M1616.7 658.3V664.9M1626.2 608.3V617.1M1626.2 643.5V652.2M1635.7 585.2V594.4M1635.7 620.8V630M1645.2 617.7V624.9M1645.2 651.3V658.6M1654.7 637.2V644.6M1654.7 671V678.4M1664.2 616.7V624.9M1664.2 651.3V659.5M1673.7 628.1V636.8M1673.7 663.2V671.9M1683.3 613.7V620.2M1683.3 646.6V653M1692.8 601.6V610.1M1692.8 636.5V645M1702.3 616.7V625.7M1702.3 652.1V661.1M1711.8 611.7V620.7M1711.8 647.1V656M1721.3 635.2V643M1721.3 669.4V677.2M1730.8 617.2V626.3M1730.8 652.7V661.8M1740.3 600.3V608.5M1740.3 634.9V643.1M1749.8 617.6V624.6M1749.8 651V658M1759.3 600.8V608.2M1759.3 634.6V642M1768.8 616.8V625.2M1768.8 651.6V659.9M1778.3 614.1V622.4M1778.3 648.8V657.1M1787.8 628.3V637.4M1787.8 663.8V672.9"/>
<path fill="none" stroke="#f7935b" stroke-width="3.0" d="M348.5 140.8h27M348.5 170.8h27M358 170.2h27M358 201.2h27M367.5 210.7h27M367.5 242.7h27M377 233h27M377 262.4h27M386.5 287.5h27M386.5 319.4h27M396 260.8h27M396 289.1h27M405.5 331.7h27M405.5 359.3h27M415 338h27M415 366.1h27M424.5 332.3h27M424.5 363.2h27M434 364.6h27M434 396.5h27M443.6 316.4h27M443.6 345.6h27M453.1 288.1h27M453.1 318.8h27M462.6 377.9h27M462.6 404.9h27M472.1 406.2h27M472.1 435.6h27M481.6 385.5h27M481.6 414.4h27M491.1 420.3h27M491.1 449.1h27M500.6 389.2h27M500.6 416.5h27M510.1 413.4h27M510.1 443.5h27M519.6 394.2h27M519.6 424.7h27M529.1 437h27M529.1 467.2h27M538.6 421.9h27M538.6 452.8h27M548.1 424.5h27M548.1 453.5h27M557.6 446.5h27M557.6 478h27M567.1 432.7h27M567.1 462.3h27M576.6 447.7h27M576.6 479.4h27M586.1 441.7h27M586.1 470.3h27M595.6 364.3h27M595.6 394.8h27M605.1 417.8h27M605.1 445h27M614.7 417.5h27M614.7 443.9h27M624.2 429.2h27M624.2 461.2h27M633.7 457.6h27M633.7 485.9h27M643.2 434.1h27M643.2 460.3h27M652.7 441.7h27M652.7 471.6h27M662.2 445.6h27M662.2 477.5h27M671.7 459.7h27M671.7 490.6h27M681.2 458.7h27M681.2 490.9h27M690.7 450.6h27M690.7 482.5h27M700.2 466.9h27M700.2 495.7h27M709.7 484.9h27M709.7 512.2h27M719.2 473.7h27M719.2 499.8h27M728.7 486.2h27M728.7 513.8h27M738.2 491.5h27M738.2 521.3h27M747.7 467.8h27M747.7 499.5h27M757.2 477.6h27M757.2 503.3h27M766.7 506.8h27M766.7 537.8h27M776.2 483.3h27M776.2 514h27M785.7 499.7h27M785.7 529.9h27M795.3 456.9h27M795.3 483.4h27M804.8 509.3h27M804.8 535.3h27M814.3 457.2h27M814.3 487.7h27M823.8 448.8h27M823.8 478.6h27M833.3 454.5h27M833.3 479.9h27M842.8 433.6h27M842.8 456.2h27M852.3 398.8h27M852.3 419.4h27M861.8 394.4h27M861.8 421.2h27M871.3 394.9h27M871.3 420.7h27M880.8 397.4h27M880.8 424.1h27M890.3 411.7h27M890.3 437.4h27M899.8 443.4h27M899.8 469.4h27M909.3 464.5h27M909.3 495.7h27M918.8 497h27M918.8 524h27M928.3 429.7h27M928.3 460.1h27M937.8 510.4h27M937.8 538.1h27M947.3 502.3h27M947.3 531.2h27M956.8 519.6h27M956.8 551.9h27M966.4 504.6h27M966.4 534.1h27M975.9 525.9h27M975.9 558.7h27M985.4 493h27M985.4 524h27M994.9 514.6h27M994.9 543.8h27M1004.4 531h27M1004.4 560.2h27M1013.9 498.6h27M1013.9 526.3h27M1023.4 532.8h27M1023.4 564.4h27M1032.9 515.7h27M1032.9 549.2h27M1042.4 537.3h27M1042.4 567h27M1051.9 523.3h27M1051.9 554.8h27M1061.4 531.4h27M1061.4 566.4h27M1070.9 525h27M1070.9 556.4h27M1080.4 539.4h27M1080.4 574.5h27M1089.9 517.2h27M1089.9 551.7h27M1099.4 534.3h27M1099.4 566.9h27M1108.9 529.8h27M1108.9 563.5h27M1118.4 525.6h27M1118.4 555.8h27M1127.9 537.4h27M1127.9 570.9h27M1137.4 531.7h27M1137.4 566.9h27M1147 542.1h27M1147 574.1h27M1156.5 527.6h27M1156.5 558.7h27M1166 534h27M1166 565.2h27M1175.5 543.4h27M1175.5 575.7h27M1185 559.3h27M1185 592.4h27M1194.5 526.4h27M1194.5 563.5h27M1204 534.9h27M1204 569.9h27M1213.5 538.9h27M1213.5 574.6h27M1223 576.6h27M1223 611.1h27M1232.5 551.5h27M1232.5 586.2h27M1242 554.3h27M1242 590.8h27M1251.5 550.5h27M1251.5 588.6h27M1261 543.4h27M1261 578h27M1270.5 562.7h27M1270.5 599.2h27M1280 570.6h27M1280 608.7h27M1289.5 542.8h27M1289.5 583.2h27M1299 577.7h27M1299 613.9h27M1308.5 560.5h27M1308.5 597.7h27M1318.1 573.7h27M1318.1 612.3h27M1327.6 598.6h27M1327.6 634.7h27M1337.1 596.5h27M1337.1 635.8h27M1346.6 575.1h27M1346.6 617.2h27M1356.1 587h27M1356.1 624.7h27M1365.6 593.1h27M1365.6 632.4h27M1375.1 621.9h27M1375.1 659h27M1384.6 565.3h27M1384.6 605.3h27M1394.1 609.3h27M1394.1 652.5h27M1403.6 561.7h27M1403.6 602.3h27M1413.1 586.7h27M1413.1 625.4h27M1422.6 609.7h27M1422.6 649.3h27M1432.1 587.5h27M1432.1 629.4h27M1441.6 612.3h27M1441.6 656h27M1451.1 605.5h27M1451.1 646.5h27M1460.6 625h27M1460.6 666.4h27M1470.1 611.6h27M1470.1 655.1h27M1479.6 617h27M1479.6 655.9h27M1489.1 594.9h27M1489.1 639.4h27M1498.7 595.8h27M1498.7 637.2h27M1508.2 595.1h27M1508.2 635.6h27M1517.7 625.6h27M1517.7 669h27M1527.2 604h27M1527.2 644.1h27M1536.7 611.8h27M1536.7 651.2h27M1546.2 604.8h27M1546.2 645h27M1555.7 612.6h27M1555.7 655.5h27M1565.2 611.3h27M1565.2 650.5h27M1574.7 599.2h27M1574.7 640.7h27M1584.2 623h27M1584.2 663.1h27M1593.7 615.4h27M1593.7 657.6h27M1603.2 625.3h27M1603.2 664.9h27M1612.7 608.3h27M1612.7 652.2h27M1622.2 585.2h27M1622.2 630h27M1631.7 617.7h27M1631.7 658.6h27M1641.2 637.2h27M1641.2 678.4h27M1650.7 616.7h27M1650.7 659.5h27M1660.2 628.1h27M1660.2 671.9h27M1669.8 613.7h27M1669.8 653h27M1679.3 601.6h27M1679.3 645h27M1688.8 616.7h27M1688.8 661.1h27M1698.3 611.7h27M1698.3 656h27M1707.8 635.2h27M1707.8 677.2h27M1717.3 617.2h27M1717.3 661.8h27M1726.8 600.3h27M1726.8 643.1h27M1736.3 617.6h27M1736.3 658h27M1745.8 600.8h27M1745.8 642h27M1755.3 616.8h27M1755.3 659.9h27M1764.8 614.1h27M1764.8 657.1h27M1774.3 628.3h27M1774.3 672.9h27"/>
<g fill="#fff" stroke="#f7935b" stroke-width="9.1"><rect x="353.4" y="147.2" width="17.3" height="17.3"/><rect x="362.9" y="177" width="17.3" height="17.3"/><rect x="372.4" y="218" width="17.3" height="17.3"/><rect x="381.9" y="239" width="17.3" height="17.3"/><rect x="391.4" y="294.8" width="17.3" height="17.3"/><rect x="400.9" y="266.3" width="17.3" height="17.3"/><rect x="410.4" y="336.8" width="17.3" height="17.3"/><rect x="419.9" y="343.4" width="17.3" height="17.3"/><rect x="429.4" y="339.1" width="17.3" height="17.3"/><rect x="438.9" y="371.9" width="17.3" height="17.3"/><rect x="448.4" y="322.4" width="17.3" height="17.3"/><rect x="457.9" y="294.8" width="17.3" height="17.3"/><rect x="467.4" y="382.7" width="17.3" height="17.3"/><rect x="476.9" y="412.3" width="17.3" height="17.3"/><rect x="486.4" y="391.3" width="17.3" height="17.3"/><rect x="495.9" y="426.1" width="17.3" height="17.3"/><rect x="505.4" y="394.2" width="17.3" height="17.3"/><rect x="514.9" y="419.8" width="17.3" height="17.3"/><rect x="524.4" y="400.8" width="17.3" height="17.3"/><rect x="534" y="443.4" width="17.3" height="17.3"/><rect x="543.5" y="428.7" width="17.3" height="17.3"/><rect x="553" y="430.3" width="17.3" height="17.3"/><rect x="562.5" y="453.6" width="17.3" height="17.3"/><rect x="572" y="438.9" width="17.3" height="17.3"/><rect x="581.5" y="454.9" width="17.3" height="17.3"/><rect x="591" y="447.4" width="17.3" height="17.3"/><rect x="600.5" y="370.9" width="17.3" height="17.3"/><rect x="610" y="422.8" width="17.3" height="17.3"/><rect x="619.5" y="422" width="17.3" height="17.3"/><rect x="629" y="436.6" width="17.3" height="17.3"/><rect x="638.5" y="463.1" width="17.3" height="17.3"/><rect x="648" y="438.6" width="17.3" height="17.3"/><rect x="657.5" y="448" width="17.3" height="17.3"/><rect x="667" y="452.9" width="17.3" height="17.3"/><rect x="676.5" y="466.5" width="17.3" height="17.3"/><rect x="686" y="466.2" width="17.3" height="17.3"/><rect x="695.5" y="457.9" width="17.3" height="17.3"/><rect x="705" y="472.6" width="17.3" height="17.3"/><rect x="714.6" y="489.9" width="17.3" height="17.3"/><rect x="724.1" y="478.1" width="17.3" height="17.3"/><rect x="733.6" y="491.3" width="17.3" height="17.3"/><rect x="743.1" y="497.8" width="17.3" height="17.3"/><rect x="752.6" y="475" width="17.3" height="17.3"/><rect x="762.1" y="481.8" width="17.3" height="17.3"/><rect x="771.6" y="513.7" width="17.3" height="17.3"/><rect x="781.1" y="490" width="17.3" height="17.3"/><rect x="790.6" y="506.1" width="17.3" height="17.3"/><rect x="800.1" y="461.5" width="17.3" height="17.3"/><rect x="809.6" y="513.7" width="17.3" height="17.3"/><rect x="819.1" y="463.8" width="17.3" height="17.3"/><rect x="828.6" y="455.1" width="17.3" height="17.3"/><rect x="838.1" y="458.5" width="17.3" height="17.3"/><rect x="847.6" y="436.2" width="17.3" height="17.3"/><rect x="857.1" y="400.5" width="17.3" height="17.3"/><rect x="866.6" y="399.2" width="17.3" height="17.3"/><rect x="876.1" y="399.2" width="17.3" height="17.3"/><rect x="885.7" y="402.1" width="17.3" height="17.3"/><rect x="895.2" y="415.9" width="17.3" height="17.3"/><rect x="904.7" y="447.7" width="17.3" height="17.3"/><rect x="914.2" y="471.4" width="17.3" height="17.3"/><rect x="923.7" y="501.8" width="17.3" height="17.3"/><rect x="933.2" y="436.2" width="17.3" height="17.3"/><rect x="942.7" y="515.6" width="17.3" height="17.3"/><rect x="952.2" y="508.1" width="17.3" height="17.3"/><rect x="961.7" y="527.1" width="17.3" height="17.3"/><rect x="971.2" y="510.7" width="17.3" height="17.3"/><rect x="980.7" y="533.7" width="17.3" height="17.3"/><rect x="990.2" y="499.9" width="17.3" height="17.3"/><rect x="999.7" y="520.5" width="17.3" height="17.3"/><rect x="1009.2" y="537" width="17.3" height="17.3"/><rect x="1018.7" y="503.8" width="17.3" height="17.3"/><rect x="1028.2" y="539.9" width="17.3" height="17.3"/><rect x="1037.7" y="523.8" width="17.3" height="17.3"/><rect x="1047.2" y="543.5" width="17.3" height="17.3"/><rect x="1056.7" y="530.4" width="17.3" height="17.3"/><rect x="1066.3" y="540.2" width="17.3" height="17.3"/><rect x="1075.8" y="532" width="17.3" height="17.3"/><rect x="1085.3" y="548.3" width="17.3" height="17.3"/><rect x="1094.8" y="525.8" width="17.3" height="17.3"/><rect x="1104.3" y="542" width="17.3" height="17.3"/><rect x="1113.8" y="538" width="17.3" height="17.3"/><rect x="1123.3" y="532" width="17.3" height="17.3"/><rect x="1132.8" y="545.5" width="17.3" height="17.3"/><rect x="1142.3" y="540.7" width="17.3" height="17.3"/><rect x="1151.8" y="549.4" width="17.3" height="17.3"/><rect x="1161.3" y="534.5" width="17.3" height="17.3"/><rect x="1170.8" y="540.9" width="17.3" height="17.3"/><rect x="1180.3" y="550.9" width="17.3" height="17.3"/><rect x="1189.8" y="567.2" width="17.3" height="17.3"/><rect x="1199.3" y="536.3" width="17.3" height="17.3"/><rect x="1208.8" y="543.7" width="17.3" height="17.3"/><rect x="1218.3" y="548.1" width="17.3" height="17.3"/><rect x="1227.8" y="585.2" width="17.3" height="17.3"/><rect x="1237.4" y="560.2" width="17.3" height="17.3"/><rect x="1246.9" y="563.9" width="17.3" height="17.3"/><rect x="1256.4" y="560.9" width="17.3" height="17.3"/><rect x="1265.9" y="552" width="17.3" height="17.3"/><rect x="1275.4" y="572.3" width="17.3" height="17.3"/><rect x="1284.9" y="581" width="17.3" height="17.3"/><rect x="1294.4" y="554.3" width="17.3" height="17.3"/><rect x="1303.9" y="587.2" width="17.3" height="17.3"/><rect x="1313.4" y="570.4" width="17.3" height="17.3"/><rect x="1322.9" y="584.3" width="17.3" height="17.3"/><rect x="1332.4" y="608" width="17.3" height="17.3"/><rect x="1341.9" y="607.5" width="17.3" height="17.3"/><rect x="1351.4" y="587.5" width="17.3" height="17.3"/><rect x="1360.9" y="597.2" width="17.3" height="17.3"/><rect x="1370.4" y="604.1" width="17.3" height="17.3"/><rect x="1379.9" y="631.8" width="17.3" height="17.3"/><rect x="1389.4" y="576.7" width="17.3" height="17.3"/><rect x="1398.9" y="622.3" width="17.3" height="17.3"/><rect x="1408.4" y="573.4" width="17.3" height="17.3"/><rect x="1418" y="597.4" width="17.3" height="17.3"/><rect x="1427.5" y="620.8" width="17.3" height="17.3"/><rect x="1437" y="599.8" width="17.3" height="17.3"/><rect x="1446.5" y="625.5" width="17.3" height="17.3"/><rect x="1456" y="617.3" width="17.3" height="17.3"/><rect x="1465.5" y="637" width="17.3" height="17.3"/><rect x="1475" y="624.7" width="17.3" height="17.3"/><rect x="1484.5" y="627.8" width="17.3" height="17.3"/><rect x="1494" y="608.5" width="17.3" height="17.3"/><rect x="1503.5" y="607.9" width="17.3" height="17.3"/><rect x="1513" y="606.7" width="17.3" height="17.3"/><rect x="1522.5" y="638.7" width="17.3" height="17.3"/><rect x="1532" y="615.4" width="17.3" height="17.3"/><rect x="1541.5" y="622.8" width="17.3" height="17.3"/><rect x="1551" y="616.2" width="17.3" height="17.3"/><rect x="1560.5" y="625.4" width="17.3" height="17.3"/><rect x="1570" y="622.3" width="17.3" height="17.3"/><rect x="1579.5" y="611.3" width="17.3" height="17.3"/><rect x="1589.1" y="634.4" width="17.3" height="17.3"/><rect x="1598.6" y="627.8" width="17.3" height="17.3"/><rect x="1608.1" y="636.5" width="17.3" height="17.3"/><rect x="1617.6" y="621.6" width="17.3" height="17.3"/><rect x="1627.1" y="599" width="17.3" height="17.3"/><rect x="1636.6" y="629.5" width="17.3" height="17.3"/><rect x="1646.1" y="649.2" width="17.3" height="17.3"/><rect x="1655.6" y="629.5" width="17.3" height="17.3"/><rect x="1665.1" y="641.4" width="17.3" height="17.3"/><rect x="1674.6" y="624.7" width="17.3" height="17.3"/><rect x="1684.1" y="614.7" width="17.3" height="17.3"/><rect x="1693.6" y="630.3" width="17.3" height="17.3"/><rect x="1703.1" y="625.2" width="17.3" height="17.3"/><rect x="1712.6" y="647.5" width="17.3" height="17.3"/><rect x="1722.1" y="630.8" width="17.3" height="17.3"/><rect x="1731.6" y="613.1" width="17.3" height="17.3"/><rect x="1741.1" y="629.2" width="17.3" height="17.3"/><rect x="1750.6" y="612.7" width="17.3" height="17.3"/><rect x="1760.1" y="629.7" width="17.3" height="17.3"/><rect x="1769.7" y="626.9" width="17.3" height="17.3"/><rect x="1779.2" y="641.9" width="17.3" height="17.3"/></g></g>
<polyline fill="none" stroke="#0accfb" stroke-width="11" stroke-dasharray="27 17.4" points="362,262.5 366.8,267.2 371.5,271.9 376.3,276.4 381,280.9 385.8,285.2 390.5,289.4 395.3,293.4 400,297.4 404.8,301.2 409.5,304.8 414.3,308.3 419,311.7 423.8,315 428.5,318.2 433.3,321.4 438,324.5 442.8,327.7 447.5,330.8 452.3,333.9 457.1,337 461.8,340 466.6,343 471.3,346 476.1,348.9 480.8,351.8 485.6,354.8 490.3,357.7 495.1,360.6 499.8,363.5 504.6,366.4 509.3,369.3 514.1,372.1 518.8,375 523.6,377.8 528.3,380.5 533.1,383.2 537.8,385.8 542.6,388.4 547.4,390.9 552.1,393.4 556.9,395.8 561.6,398.1 566.4,400.3 571.1,402.6 575.9,404.7 580.6,406.9 585.4,409 590.1,411.1 594.9,413.1 599.6,415.1 604.4,417.1 609.1,419.1 613.9,421.1 618.6,423 623.4,425 628.2,426.9 632.9,428.9 637.7,430.8 642.4,432.8 647.2,434.8 651.9,436.7 656.7,438.7 661.4,440.6 666.2,442.6 670.9,444.5 675.7,446.4 680.4,448.3 685.2,450.2 689.9,452 694.7,453.9 699.4,455.7 704.2,457.4 708.9,459.1 713.7,460.8 718.5,462.4 723.2,464 728,465.6 732.7,467.1 737.5,468.6 742.2,470.1 747,471.5 751.7,472.9 756.5,474.3 761.2,475.7 766,477.1 770.7,478.4 775.5,479.8 780.2,481.1 785,482.4 789.7,483.7 794.5,485 799.2,486.3 804,487.7 808.8,489 813.5,490.3 818.3,491.6 823,492.9 827.8,494.1 832.5,495.4 837.3,496.7 842,497.9 846.8,499.2 851.5,500.4 856.3,501.7 861,502.9 865.8,504.1 870.5,505.3 875.3,506.5 880,507.7 884.8,508.9 889.5,510.1 894.3,511.3 899.1,512.5 903.8,513.7 908.6,514.9 913.3,516.1 918.1,517.3 922.8,518.5 927.6,519.6 932.3,520.8 937.1,522 941.8,523.1 946.6,524.3 951.3,525.4 956.1,526.5 960.8,527.6 965.6,528.7 970.3,529.8 975.1,530.8 979.9,531.8 984.6,532.8 989.4,533.8 994.1,534.8 998.9,535.7 1003.6,536.7 1008.4,537.6 1013.1,538.5 1017.9,539.4 1022.6,540.3 1027.4,541.2 1032.1,542.1 1036.9,543 1041.6,543.9 1046.4,544.7 1051.1,545.6 1055.9,546.5 1060.6,547.4 1065.4,548.3 1070.2,549.2 1074.9,550.1 1079.7,551 1084.4,551.9 1089.2,552.8 1093.9,553.7 1098.7,554.5 1103.4,555.4 1108.2,556.3 1112.9,557.1 1117.7,557.9 1122.4,558.7 1127.2,559.6 1131.9,560.4 1136.7,561.2 1141.4,562 1146.2,562.8 1150.9,563.6 1155.7,564.4 1160.5,565.1 1165.2,565.9 1170,566.7 1174.7,567.5 1179.5,568.2 1184.2,569 1189,569.8 1193.7,570.5 1198.5,571.2 1203.2,572 1208,572.7 1212.7,573.4 1217.5,574.1 1222.2,574.9 1227,575.6 1231.7,576.3 1236.5,576.9 1241.2,577.6 1246,578.3 1250.8,579 1255.5,579.6 1260.3,580.3 1265,580.9 1269.8,581.6 1274.5,582.2 1279.3,582.9 1284,583.5 1288.8,584.1 1293.5,584.7 1298.3,585.3 1303,586 1307.8,586.6 1312.5,587.2 1317.3,587.8 1322,588.4 1326.8,588.9 1331.6,589.5 1336.3,590.1 1341.1,590.7 1345.8,591.3 1350.6,591.8 1355.3,592.4 1360.1,593 1364.8,593.5 1369.6,594.1 1374.3,594.7 1379.1,595.2 1383.8,595.7 1388.6,596.3 1393.3,596.8 1398.1,597.3 1402.8,597.8 1407.6,598.3 1412.3,598.9 1417.1,599.4 1421.9,599.9 1426.6,600.4 1431.4,601 1436.1,601.5 1440.9,602.1 1445.6,602.6 1450.4,603.2 1455.1,603.7 1459.9,604.3 1464.6,604.8 1469.4,605.3 1474.1,605.9 1478.9,606.4 1483.6,606.9 1488.4,607.5 1493.1,608 1497.9,608.5 1502.6,609 1507.4,609.4 1512.2,609.9 1516.9,610.4 1521.7,610.8 1526.4,611.3 1531.2,611.7 1535.9,612.1 1540.7,612.6 1545.4,613 1550.2,613.4 1554.9,613.8 1559.7,614.2 1564.4,614.6 1569.2,615 1573.9,615.4 1578.7,615.8 1583.4,616.2 1588.2,616.6 1592.9,617 1597.7,617.4 1602.5,617.8 1607.2,618.2 1612,618.6 1616.7,619 1621.5,619.4 1626.2,619.7 1631,620.1 1635.7,620.5 1640.5,620.9 1645.2,621.3 1650,621.7 1654.7,622.1 1659.5,622.5 1664.2,622.9 1669,623.2 1673.7,623.6 1678.5,624 1683.3,624.4 1688,624.8 1692.8,625.2 1697.5,625.5 1702.3,625.9 1707,626.3 1711.8,626.7 1716.5,627.1 1721.3,627.4 1726,627.8 1730.8,628.2 1735.5,628.5 1740.3,628.9 1745,629.3 1749.8,629.6 1754.5,630 1759.3,630.4 1764,630.7 1768.8,631.1 1773.6,631.5 1778.3,631.8 1783.1,632.2 1787.8,632.6"/>
</g>
<g id="axes">
<path fill="none" stroke="#000" stroke-width="7.0" stroke-linejoin="miter" d="M338.2 71.5H1787.8V1187H338.2Z"/>
<path fill="none" stroke="#000" stroke-width="7.0" d="M362 1187v15.2M362 71.5v-14.6M837.3 1187v15.2M837.3 71.5v-14.6M1312.5 1187v15.2M1312.5 71.5v-14.6M1787.8 1187v15.2M1787.8 71.5v-14.6M338.2 1055.8h-14.6M1787.8 1055.8h14.6M338.2 891.8h-14.6M1787.8 891.8h14.6M338.2 727.7h-14.6M1787.8 727.7h14.6M338.2 563.7h-14.6M1787.8 563.7h14.6M338.2 399.6h-14.6M1787.8 399.6h14.6M338.2 235.6h-14.6M1787.8 235.6h14.6M338.2 71.5h-14.6M1787.8 71.5h14.6"/>
</g>
<g id="labels">
<text transform="translate(365 1302.5) scale(1 1.055)" text-anchor="middle" font-size="75">0</text>
<text transform="translate(838 1302.5) scale(1 1.055)" text-anchor="middle" font-size="75">100</text>
<text transform="translate(1313.5 1302.5) scale(1 1.055)" text-anchor="middle" font-size="75">200</text>
<text transform="translate(1789.3 1302.5) scale(1 1.055)" text-anchor="middle" font-size="75">300</text>
<text transform="translate(299 1086.8) scale(1 1.055)" text-anchor="end" font-size="75">50</text>
<text transform="translate(299 922.8) scale(1 1.055)" text-anchor="end" font-size="75">100</text>
<text transform="translate(299 758.7) scale(1 1.055)" text-anchor="end" font-size="75">150</text>
<text transform="translate(299 594.7) scale(1 1.055)" text-anchor="end" font-size="75">200</text>
<text transform="translate(299 430.6) scale(1 1.055)" text-anchor="end" font-size="75">250</text>
<text transform="translate(299 266.6) scale(1 1.055)" text-anchor="end" font-size="75">300</text>
<text transform="translate(299 102.5) scale(1 1.055)" text-anchor="end" font-size="75">350</text>
<text transform="translate(1065.7 1407.5) scale(1 1)" text-anchor="middle" font-size="81">time (min)</text>
<text transform="translate(103.5 756.1) rotate(-90) scale(1.18 1)" style="font-family:'DejaVu Serif','Liberation Serif',serif;font-style:italic" font-size="68">τ</text>
<text transform="translate(143.6 716.1) rotate(-90) scale(1 1.04)" font-size="64">0</text>
<text transform="translate(103.6 657.5) rotate(-90) scale(1 1.03)" font-size="81" letter-spacing="0.5">(Pa)</text>
<rect x="1274.8" y="125.9" width="26.5" height="26.5" fill="#fff" stroke="#2e0854" stroke-width="8"/>
<text transform="translate(1348.5 161.6) scale(1 1.04)" text-anchor="start" font-size="73.6">EY - 5 s<tspan font-size="45" dy="-26.7" dx="2.5">−1</tspan></text>
<rect x="1274.8" y="212.3" width="26.5" height="26.5" fill="#fff" stroke="#a299ca" stroke-width="8"/>
<text transform="translate(1348.5 248.4) scale(1 1.04)" text-anchor="start" font-size="73.6">EY - 25 s<tspan font-size="45" dy="-26.7" dx="2.5">−1</tspan></text>
<rect x="1274.8" y="301.1" width="26.5" height="26.5" fill="#fff" stroke="#ff4e04" stroke-width="8"/>
<text transform="translate(1348.5 336.4) scale(1 1.04)" text-anchor="start" font-size="73.6">MEY - 5 s<tspan font-size="45" dy="-26.7" dx="2.5">−1</tspan></text>
<rect x="1274.8" y="384.1" width="26.5" height="26.5" fill="#fff" stroke="#f7935b" stroke-width="8"/>
<text transform="translate(1348.5 420) scale(1 1.04)" text-anchor="start" font-size="73.6">MEY - 25 s<tspan font-size="45" dy="-26.7" dx="2.5">−1</tspan></text>
</g>
</svg>
</body></html>
